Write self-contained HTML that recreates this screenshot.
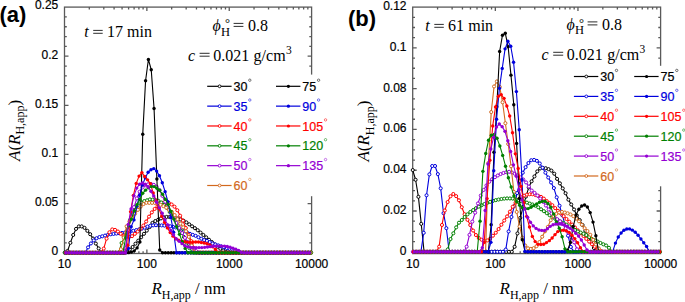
<!DOCTYPE html>
<html><head><meta charset="utf-8"><style>
html,body{margin:0;padding:0;background:#fff;}
svg{display:block;}
text{font-family:"Liberation Sans",sans-serif;}
.tk{font-size:12px;fill:#000;stroke:#000;stroke-width:0.2px;}
.lg{font-size:12.5px;}
.pl{font-size:22px;font-weight:bold;fill:#000;}
.sr{font-family:"Liberation Serif",serif;fill:#000;}
</style></head><body>
<svg width="685" height="302" viewBox="0 0 685 302">
<rect width="685" height="302" fill="#fff"/>
<g stroke="#5a5a5a" stroke-width="1.3" fill="none">
<rect x="64.5" y="7.1" width="247.1" height="246.4"/>
<path d="M89.3 253.5 v-2.3 M89.3 7.1 v2.3"/>
<path d="M103.8 253.5 v-2.3 M103.8 7.1 v2.3"/>
<path d="M114.09 253.5 v-2.3 M114.09 7.1 v2.3"/>
<path d="M122.07 253.5 v-2.3 M122.07 7.1 v2.3"/>
<path d="M128.6 253.5 v-2.3 M128.6 7.1 v2.3"/>
<path d="M134.11 253.5 v-2.3 M134.11 7.1 v2.3"/>
<path d="M138.89 253.5 v-2.3 M138.89 7.1 v2.3"/>
<path d="M143.1 253.5 v-2.3 M143.1 7.1 v2.3"/>
<path d="M146.87 253.5 v-4 M146.87 7.1 v4"/>
<path d="M171.67 253.5 v-2.3 M171.67 7.1 v2.3"/>
<path d="M186.17 253.5 v-2.3 M186.17 7.1 v2.3"/>
<path d="M196.46 253.5 v-2.3 M196.46 7.1 v2.3"/>
<path d="M204.44 253.5 v-2.3 M204.44 7.1 v2.3"/>
<path d="M210.97 253.5 v-2.3 M210.97 7.1 v2.3"/>
<path d="M216.48 253.5 v-2.3 M216.48 7.1 v2.3"/>
<path d="M221.26 253.5 v-2.3 M221.26 7.1 v2.3"/>
<path d="M225.47 253.5 v-2.3 M225.47 7.1 v2.3"/>
<path d="M229.24 253.5 v-4 M229.24 7.1 v4"/>
<path d="M254.04 253.5 v-2.3 M254.04 7.1 v2.3"/>
<path d="M268.54 253.5 v-2.3 M268.54 7.1 v2.3"/>
<path d="M278.83 253.5 v-2.3 M278.83 7.1 v2.3"/>
<path d="M286.81 253.5 v-2.3 M286.81 7.1 v2.3"/>
<path d="M293.34 253.5 v-2.3 M293.34 7.1 v2.3"/>
<path d="M298.85 253.5 v-2.3 M298.85 7.1 v2.3"/>
<path d="M303.63 253.5 v-2.3 M303.63 7.1 v2.3"/>
<path d="M307.84 253.5 v-2.3 M307.84 7.1 v2.3"/>
<path d="M64.5 242.88 h2.3 M311.6 242.88 h-2.3"/>
<path d="M64.5 233.05 h2.3 M311.6 233.05 h-2.3"/>
<path d="M64.5 223.23 h2.3 M311.6 223.23 h-2.3"/>
<path d="M64.5 213.4 h2.3 M311.6 213.4 h-2.3"/>
<path d="M64.5 203.58 h4 M311.6 203.58 h-4"/>
<path d="M64.5 193.76 h2.3 M311.6 193.76 h-2.3"/>
<path d="M64.5 183.93 h2.3 M311.6 183.93 h-2.3"/>
<path d="M64.5 174.11 h2.3 M311.6 174.11 h-2.3"/>
<path d="M64.5 164.28 h2.3 M311.6 164.28 h-2.3"/>
<path d="M64.5 154.46 h4 M311.6 154.46 h-4"/>
<path d="M64.5 144.64 h2.3 M311.6 144.64 h-2.3"/>
<path d="M64.5 134.81 h2.3 M311.6 134.81 h-2.3"/>
<path d="M64.5 124.99 h2.3 M311.6 124.99 h-2.3"/>
<path d="M64.5 115.16 h2.3 M311.6 115.16 h-2.3"/>
<path d="M64.5 105.34 h4 M311.6 105.34 h-4"/>
<path d="M64.5 95.52 h2.3 M311.6 95.52 h-2.3"/>
<path d="M64.5 85.69 h2.3 M311.6 85.69 h-2.3"/>
<path d="M64.5 75.87 h2.3 M311.6 75.87 h-2.3"/>
<path d="M64.5 66.04 h2.3 M311.6 66.04 h-2.3"/>
<path d="M64.5 56.22 h4 M311.6 56.22 h-4"/>
<path d="M64.5 46.4 h2.3 M311.6 46.4 h-2.3"/>
<path d="M64.5 36.57 h2.3 M311.6 36.57 h-2.3"/>
<path d="M64.5 26.75 h2.3 M311.6 26.75 h-2.3"/>
<path d="M64.5 16.92 h2.3 M311.6 16.92 h-2.3"/>
</g>
<g stroke="#5a5a5a" stroke-width="1.3" fill="none">
<rect x="412.7" y="7.1" width="247.9" height="246.5"/>
<path d="M437.57 253.6 v-2.3 M437.57 7.1 v2.3"/>
<path d="M452.12 253.6 v-2.3 M452.12 7.1 v2.3"/>
<path d="M462.45 253.6 v-2.3 M462.45 7.1 v2.3"/>
<path d="M470.46 253.6 v-2.3 M470.46 7.1 v2.3"/>
<path d="M477 253.6 v-2.3 M477 7.1 v2.3"/>
<path d="M482.53 253.6 v-2.3 M482.53 7.1 v2.3"/>
<path d="M487.32 253.6 v-2.3 M487.32 7.1 v2.3"/>
<path d="M491.55 253.6 v-2.3 M491.55 7.1 v2.3"/>
<path d="M495.33 253.6 v-4 M495.33 7.1 v4"/>
<path d="M520.2 253.6 v-2.3 M520.2 7.1 v2.3"/>
<path d="M534.75 253.6 v-2.3 M534.75 7.1 v2.3"/>
<path d="M545.08 253.6 v-2.3 M545.08 7.1 v2.3"/>
<path d="M553.09 253.6 v-2.3 M553.09 7.1 v2.3"/>
<path d="M559.63 253.6 v-2.3 M559.63 7.1 v2.3"/>
<path d="M565.16 253.6 v-2.3 M565.16 7.1 v2.3"/>
<path d="M569.95 253.6 v-2.3 M569.95 7.1 v2.3"/>
<path d="M574.18 253.6 v-2.3 M574.18 7.1 v2.3"/>
<path d="M577.96 253.6 v-4 M577.96 7.1 v4"/>
<path d="M602.83 253.6 v-2.3 M602.83 7.1 v2.3"/>
<path d="M617.38 253.6 v-2.3 M617.38 7.1 v2.3"/>
<path d="M627.71 253.6 v-2.3 M627.71 7.1 v2.3"/>
<path d="M635.72 253.6 v-2.3 M635.72 7.1 v2.3"/>
<path d="M642.26 253.6 v-2.3 M642.26 7.1 v2.3"/>
<path d="M647.79 253.6 v-2.3 M647.79 7.1 v2.3"/>
<path d="M652.58 253.6 v-2.3 M652.58 7.1 v2.3"/>
<path d="M656.81 253.6 v-2.3 M656.81 7.1 v2.3"/>
<path d="M412.7 241.6 h2.3 M660.6 241.6 h-2.3"/>
<path d="M412.7 231.41 h2.3 M660.6 231.41 h-2.3"/>
<path d="M412.7 221.21 h2.3 M660.6 221.21 h-2.3"/>
<path d="M412.7 211.02 h4 M660.6 211.02 h-4"/>
<path d="M412.7 200.82 h2.3 M660.6 200.82 h-2.3"/>
<path d="M412.7 190.62 h2.3 M660.6 190.62 h-2.3"/>
<path d="M412.7 180.43 h2.3 M660.6 180.43 h-2.3"/>
<path d="M412.7 170.23 h4 M660.6 170.23 h-4"/>
<path d="M412.7 160.04 h2.3 M660.6 160.04 h-2.3"/>
<path d="M412.7 149.84 h2.3 M660.6 149.84 h-2.3"/>
<path d="M412.7 139.65 h2.3 M660.6 139.65 h-2.3"/>
<path d="M412.7 129.45 h4 M660.6 129.45 h-4"/>
<path d="M412.7 119.25 h2.3 M660.6 119.25 h-2.3"/>
<path d="M412.7 109.06 h2.3 M660.6 109.06 h-2.3"/>
<path d="M412.7 98.86 h2.3 M660.6 98.86 h-2.3"/>
<path d="M412.7 88.67 h4 M660.6 88.67 h-4"/>
<path d="M412.7 78.47 h2.3 M660.6 78.47 h-2.3"/>
<path d="M412.7 68.27 h2.3 M660.6 68.27 h-2.3"/>
<path d="M412.7 58.08 h2.3 M660.6 58.08 h-2.3"/>
<path d="M412.7 47.88 h4 M660.6 47.88 h-4"/>
<path d="M412.7 37.69 h2.3 M660.6 37.69 h-2.3"/>
<path d="M412.7 27.49 h2.3 M660.6 27.49 h-2.3"/>
<path d="M412.7 17.3 h2.3 M660.6 17.3 h-2.3"/>
</g>
<path d="M64.71 252.69 L67.54 250.96 L70.37 242.84 L73.2 234.97 L76.03 228.91 L78.86 226.42 L81.69 226.4 L84.52 227.85 L87.35 230.83 L90.18 234.21 L93.01 238.52 L95.84 243.55 L98.67 248.44 L101.5 252.7 L104.33 252.7 L107.16 252.7 L109.99 252.7 L112.82 252.7 L115.65 252.7 L118.48 252.7 L121.31 252.7 L124.14 252.7 L126.97 252.18 L129.8 249.59 L132.63 247.01 L135.46 243.7 L138.29 240.64 L141.12 237.26 L143.95 233.8 L146.78 230.63 L149.61 227.09 L152.44 222.94 L155.27 221.08 L158.1 219.78 L160.93 218.42 L163.76 217.23 L166.59 216.91 L169.42 217.03 L172.25 217.24 L175.08 217.73 L177.91 218.46 L180.74 219.4 L183.57 220.68 L186.4 222.39 L189.23 224.36 L192.06 226.3 L194.89 228.15 L197.72 230.2 L200.55 232.61 L203.38 234.96 L206.21 237.35 L209.04 239.77 L211.87 242.06 L214.7 244.4 L217.53 246.75 L220.36 248.72 L223.19 250.37 L226.02 251.71 L228.85 252.7 L231.68 252.7 L234.51 252.7 L237.34 252.7 L240.17 252.7 L243 252.7 L245.83 252.7 L248.66 252.7 L251.49 252.7 L254.32 252.7 L257.15 252.7 L259.98 252.7 L262.81 252.7 L265.64 252.7 L268.47 252.7 L271.3 252.7 L274.13 252.7 L276.96 252.7 L279.79 252.7 L282.62 252.7 L285.45 252.7 L288.28 252.7 L291.11 252.7 L293.94 252.7 L296.77 252.7 L299.6 252.7 L302.43 252.7 L305.26 252.7 L308.09 252.7 L310.92 252.7" fill="none" stroke="#000000" stroke-width="1.1" stroke-linejoin="round"/>
<g fill="#fff" stroke="#000000" stroke-width="1">
<circle cx="64.71" cy="252.69" r="1.55"/>
<circle cx="67.54" cy="250.96" r="1.55"/>
<circle cx="70.37" cy="242.84" r="1.55"/>
<circle cx="73.2" cy="234.97" r="1.55"/>
<circle cx="76.03" cy="228.91" r="1.55"/>
<circle cx="78.86" cy="226.42" r="1.55"/>
<circle cx="81.69" cy="226.4" r="1.55"/>
<circle cx="84.52" cy="227.85" r="1.55"/>
<circle cx="87.35" cy="230.83" r="1.55"/>
<circle cx="90.18" cy="234.21" r="1.55"/>
<circle cx="93.01" cy="238.52" r="1.55"/>
<circle cx="95.84" cy="243.55" r="1.55"/>
<circle cx="98.67" cy="248.44" r="1.55"/>
<circle cx="101.5" cy="252.7" r="1.55"/>
<circle cx="104.33" cy="252.7" r="1.55"/>
<circle cx="107.16" cy="252.7" r="1.55"/>
<circle cx="109.99" cy="252.7" r="1.55"/>
<circle cx="112.82" cy="252.7" r="1.55"/>
<circle cx="115.65" cy="252.7" r="1.55"/>
<circle cx="118.48" cy="252.7" r="1.55"/>
<circle cx="121.31" cy="252.7" r="1.55"/>
<circle cx="124.14" cy="252.7" r="1.55"/>
<circle cx="126.97" cy="252.18" r="1.55"/>
<circle cx="129.8" cy="249.59" r="1.55"/>
<circle cx="132.63" cy="247.01" r="1.55"/>
<circle cx="135.46" cy="243.7" r="1.55"/>
<circle cx="138.29" cy="240.64" r="1.55"/>
<circle cx="141.12" cy="237.26" r="1.55"/>
<circle cx="143.95" cy="233.8" r="1.55"/>
<circle cx="146.78" cy="230.63" r="1.55"/>
<circle cx="149.61" cy="227.09" r="1.55"/>
<circle cx="152.44" cy="222.94" r="1.55"/>
<circle cx="155.27" cy="221.08" r="1.55"/>
<circle cx="158.1" cy="219.78" r="1.55"/>
<circle cx="160.93" cy="218.42" r="1.55"/>
<circle cx="163.76" cy="217.23" r="1.55"/>
<circle cx="166.59" cy="216.91" r="1.55"/>
<circle cx="169.42" cy="217.03" r="1.55"/>
<circle cx="172.25" cy="217.24" r="1.55"/>
<circle cx="175.08" cy="217.73" r="1.55"/>
<circle cx="177.91" cy="218.46" r="1.55"/>
<circle cx="180.74" cy="219.4" r="1.55"/>
<circle cx="183.57" cy="220.68" r="1.55"/>
<circle cx="186.4" cy="222.39" r="1.55"/>
<circle cx="189.23" cy="224.36" r="1.55"/>
<circle cx="192.06" cy="226.3" r="1.55"/>
<circle cx="194.89" cy="228.15" r="1.55"/>
<circle cx="197.72" cy="230.2" r="1.55"/>
<circle cx="200.55" cy="232.61" r="1.55"/>
<circle cx="203.38" cy="234.96" r="1.55"/>
<circle cx="206.21" cy="237.35" r="1.55"/>
<circle cx="209.04" cy="239.77" r="1.55"/>
<circle cx="211.87" cy="242.06" r="1.55"/>
<circle cx="214.7" cy="244.4" r="1.55"/>
<circle cx="217.53" cy="246.75" r="1.55"/>
<circle cx="220.36" cy="248.72" r="1.55"/>
<circle cx="223.19" cy="250.37" r="1.55"/>
<circle cx="226.02" cy="251.71" r="1.55"/>
<circle cx="228.85" cy="252.7" r="1.55"/>
<circle cx="231.68" cy="252.7" r="1.55"/>
<circle cx="234.51" cy="252.7" r="1.55"/>
<circle cx="237.34" cy="252.7" r="1.55"/>
<circle cx="240.17" cy="252.7" r="1.55"/>
<circle cx="243" cy="252.7" r="1.55"/>
<circle cx="245.83" cy="252.7" r="1.55"/>
<circle cx="248.66" cy="252.7" r="1.55"/>
<circle cx="251.49" cy="252.7" r="1.55"/>
<circle cx="254.32" cy="252.7" r="1.55"/>
<circle cx="257.15" cy="252.7" r="1.55"/>
<circle cx="259.98" cy="252.7" r="1.55"/>
<circle cx="262.81" cy="252.7" r="1.55"/>
<circle cx="265.64" cy="252.7" r="1.55"/>
<circle cx="268.47" cy="252.7" r="1.55"/>
<circle cx="271.3" cy="252.7" r="1.55"/>
<circle cx="274.13" cy="252.7" r="1.55"/>
<circle cx="276.96" cy="252.7" r="1.55"/>
<circle cx="279.79" cy="252.7" r="1.55"/>
<circle cx="282.62" cy="252.7" r="1.55"/>
<circle cx="285.45" cy="252.7" r="1.55"/>
<circle cx="288.28" cy="252.7" r="1.55"/>
<circle cx="291.11" cy="252.7" r="1.55"/>
<circle cx="293.94" cy="252.7" r="1.55"/>
<circle cx="296.77" cy="252.7" r="1.55"/>
<circle cx="299.6" cy="252.7" r="1.55"/>
<circle cx="302.43" cy="252.7" r="1.55"/>
<circle cx="305.26" cy="252.7" r="1.55"/>
<circle cx="308.09" cy="252.7" r="1.55"/>
<circle cx="310.92" cy="252.7" r="1.55"/>
</g>
<path d="M65.44 252.7 L68.27 252.7 L71.1 252.7 L73.93 252.7 L76.76 252.7 L79.59 252.7 L82.42 252.7 L85.25 252.7 L88.08 247.36 L90.91 243.43 L93.74 240.4 L96.57 238.22 L99.4 237.08 L102.23 236.31 L105.06 235.57 L107.89 234.8 L110.72 234.29 L113.55 233.94 L116.38 233.58 L119.21 233.23 L122.04 232.93 L124.87 232.61 L127.7 232.22 L130.53 231.54 L133.36 230.79 L136.19 230.12 L139.02 229.44 L141.85 228.68 L144.68 227.65 L147.51 226.58 L150.34 225.75 L153.17 225.36 L156 225.2 L158.83 225.26 L161.66 225.38 L164.49 225.58 L167.32 225.89 L170.15 226.28 L172.98 226.77 L175.81 227.45 L178.64 228.43 L181.47 229.72 L184.3 231.1 L187.13 232.56 L189.96 233.84 L192.79 234.86 L195.62 235.83 L198.45 237.26 L201.28 238.74 L204.11 240.05 L206.94 240.87 L209.77 242.14 L212.6 243.53 L215.43 244.45 L218.26 245.39 L221.09 246.33 L223.92 247.3 L226.75 248.04 L229.58 248.72 L232.41 249.46 L235.24 250.36 L238.07 251.52 L240.9 252.7 L243.73 252.7 L246.56 252.7 L249.39 252.7 L252.22 252.7 L255.05 252.7 L257.88 252.7 L260.71 252.7 L263.54 252.7 L266.37 252.7 L269.2 252.7 L272.03 252.7 L274.86 252.7 L277.69 252.7 L280.52 252.7 L283.35 252.7 L286.18 252.7 L289.01 252.7 L291.84 252.7 L294.67 252.7 L297.5 252.7 L300.33 252.7 L303.16 252.7 L305.99 252.7 L308.82 252.7" fill="none" stroke="#0000dd" stroke-width="1.1" stroke-linejoin="round"/>
<g fill="#fff" stroke="#0000dd" stroke-width="1">
<circle cx="65.44" cy="252.7" r="1.55"/>
<circle cx="68.27" cy="252.7" r="1.55"/>
<circle cx="71.1" cy="252.7" r="1.55"/>
<circle cx="73.93" cy="252.7" r="1.55"/>
<circle cx="76.76" cy="252.7" r="1.55"/>
<circle cx="79.59" cy="252.7" r="1.55"/>
<circle cx="82.42" cy="252.7" r="1.55"/>
<circle cx="85.25" cy="252.7" r="1.55"/>
<circle cx="88.08" cy="247.36" r="1.55"/>
<circle cx="90.91" cy="243.43" r="1.55"/>
<circle cx="93.74" cy="240.4" r="1.55"/>
<circle cx="96.57" cy="238.22" r="1.55"/>
<circle cx="99.4" cy="237.08" r="1.55"/>
<circle cx="102.23" cy="236.31" r="1.55"/>
<circle cx="105.06" cy="235.57" r="1.55"/>
<circle cx="107.89" cy="234.8" r="1.55"/>
<circle cx="110.72" cy="234.29" r="1.55"/>
<circle cx="113.55" cy="233.94" r="1.55"/>
<circle cx="116.38" cy="233.58" r="1.55"/>
<circle cx="119.21" cy="233.23" r="1.55"/>
<circle cx="122.04" cy="232.93" r="1.55"/>
<circle cx="124.87" cy="232.61" r="1.55"/>
<circle cx="127.7" cy="232.22" r="1.55"/>
<circle cx="130.53" cy="231.54" r="1.55"/>
<circle cx="133.36" cy="230.79" r="1.55"/>
<circle cx="136.19" cy="230.12" r="1.55"/>
<circle cx="139.02" cy="229.44" r="1.55"/>
<circle cx="141.85" cy="228.68" r="1.55"/>
<circle cx="144.68" cy="227.65" r="1.55"/>
<circle cx="147.51" cy="226.58" r="1.55"/>
<circle cx="150.34" cy="225.75" r="1.55"/>
<circle cx="153.17" cy="225.36" r="1.55"/>
<circle cx="156" cy="225.2" r="1.55"/>
<circle cx="158.83" cy="225.26" r="1.55"/>
<circle cx="161.66" cy="225.38" r="1.55"/>
<circle cx="164.49" cy="225.58" r="1.55"/>
<circle cx="167.32" cy="225.89" r="1.55"/>
<circle cx="170.15" cy="226.28" r="1.55"/>
<circle cx="172.98" cy="226.77" r="1.55"/>
<circle cx="175.81" cy="227.45" r="1.55"/>
<circle cx="178.64" cy="228.43" r="1.55"/>
<circle cx="181.47" cy="229.72" r="1.55"/>
<circle cx="184.3" cy="231.1" r="1.55"/>
<circle cx="187.13" cy="232.56" r="1.55"/>
<circle cx="189.96" cy="233.84" r="1.55"/>
<circle cx="192.79" cy="234.86" r="1.55"/>
<circle cx="195.62" cy="235.83" r="1.55"/>
<circle cx="198.45" cy="237.26" r="1.55"/>
<circle cx="201.28" cy="238.74" r="1.55"/>
<circle cx="204.11" cy="240.05" r="1.55"/>
<circle cx="206.94" cy="240.87" r="1.55"/>
<circle cx="209.77" cy="242.14" r="1.55"/>
<circle cx="212.6" cy="243.53" r="1.55"/>
<circle cx="215.43" cy="244.45" r="1.55"/>
<circle cx="218.26" cy="245.39" r="1.55"/>
<circle cx="221.09" cy="246.33" r="1.55"/>
<circle cx="223.92" cy="247.3" r="1.55"/>
<circle cx="226.75" cy="248.04" r="1.55"/>
<circle cx="229.58" cy="248.72" r="1.55"/>
<circle cx="232.41" cy="249.46" r="1.55"/>
<circle cx="235.24" cy="250.36" r="1.55"/>
<circle cx="238.07" cy="251.52" r="1.55"/>
<circle cx="240.9" cy="252.7" r="1.55"/>
<circle cx="243.73" cy="252.7" r="1.55"/>
<circle cx="246.56" cy="252.7" r="1.55"/>
<circle cx="249.39" cy="252.7" r="1.55"/>
<circle cx="252.22" cy="252.7" r="1.55"/>
<circle cx="255.05" cy="252.7" r="1.55"/>
<circle cx="257.88" cy="252.7" r="1.55"/>
<circle cx="260.71" cy="252.7" r="1.55"/>
<circle cx="263.54" cy="252.7" r="1.55"/>
<circle cx="266.37" cy="252.7" r="1.55"/>
<circle cx="269.2" cy="252.7" r="1.55"/>
<circle cx="272.03" cy="252.7" r="1.55"/>
<circle cx="274.86" cy="252.7" r="1.55"/>
<circle cx="277.69" cy="252.7" r="1.55"/>
<circle cx="280.52" cy="252.7" r="1.55"/>
<circle cx="283.35" cy="252.7" r="1.55"/>
<circle cx="286.18" cy="252.7" r="1.55"/>
<circle cx="289.01" cy="252.7" r="1.55"/>
<circle cx="291.84" cy="252.7" r="1.55"/>
<circle cx="294.67" cy="252.7" r="1.55"/>
<circle cx="297.5" cy="252.7" r="1.55"/>
<circle cx="300.33" cy="252.7" r="1.55"/>
<circle cx="303.16" cy="252.7" r="1.55"/>
<circle cx="305.99" cy="252.7" r="1.55"/>
<circle cx="308.82" cy="252.7" r="1.55"/>
</g>
<path d="M66.95 252.7 L69.78 252.7 L72.61 252.7 L75.44 252.7 L78.27 252.7 L81.1 252.7 L83.93 252.7 L86.76 252.7 L89.59 252.7 L92.42 252.7 L95.25 252.7 L98.08 252.7 L100.91 252.7 L103.74 248.58 L106.57 238.65 L109.4 232.28 L112.23 229.43 L115.06 229.89 L117.89 231.53 L120.72 233.76 L123.55 235.9 L126.38 236.9 L129.21 236.79 L132.04 236.15 L134.87 233.84 L137.7 231.53 L140.53 228.82 L143.36 225.56 L146.19 221.53 L149.02 216.65 L151.85 212.37 L154.68 208.93 L157.51 206.24 L160.34 204.07 L163.17 202.71 L166 202 L168.83 202.92 L171.66 204.48 L174.49 206.68 L177.32 210.23 L180.15 215.72 L182.98 220.71 L185.81 227.98 L188.64 234.88 L191.47 241.23 L194.3 248.23 L197.13 252.08 L199.96 252.7 L202.79 252.7 L205.62 252.7 L208.45 252.7 L211.28 252.7 L214.11 252.7 L216.94 252.7 L219.77 252.7 L222.6 252.7 L225.43 252.7 L228.26 252.7 L231.09 252.7 L233.92 252.7 L236.75 252.7 L239.58 252.7 L242.41 252.7 L245.24 252.7 L248.07 252.7 L250.9 252.7 L253.73 252.7 L256.56 252.7 L259.39 252.7 L262.22 252.7 L265.05 252.7 L267.88 252.7 L270.71 252.7 L273.54 252.7 L276.37 252.7 L279.2 252.7 L282.03 252.7 L284.86 252.7 L287.69 252.7 L290.52 252.7 L293.35 252.7 L296.18 252.7 L299.01 252.7 L301.84 252.7 L304.67 252.7 L307.5 252.7 L310.33 252.7" fill="none" stroke="#ff0000" stroke-width="1.1" stroke-linejoin="round"/>
<g fill="#fff" stroke="#ff0000" stroke-width="1">
<circle cx="66.95" cy="252.7" r="1.55"/>
<circle cx="69.78" cy="252.7" r="1.55"/>
<circle cx="72.61" cy="252.7" r="1.55"/>
<circle cx="75.44" cy="252.7" r="1.55"/>
<circle cx="78.27" cy="252.7" r="1.55"/>
<circle cx="81.1" cy="252.7" r="1.55"/>
<circle cx="83.93" cy="252.7" r="1.55"/>
<circle cx="86.76" cy="252.7" r="1.55"/>
<circle cx="89.59" cy="252.7" r="1.55"/>
<circle cx="92.42" cy="252.7" r="1.55"/>
<circle cx="95.25" cy="252.7" r="1.55"/>
<circle cx="98.08" cy="252.7" r="1.55"/>
<circle cx="100.91" cy="252.7" r="1.55"/>
<circle cx="103.74" cy="248.58" r="1.55"/>
<circle cx="106.57" cy="238.65" r="1.55"/>
<circle cx="109.4" cy="232.28" r="1.55"/>
<circle cx="112.23" cy="229.43" r="1.55"/>
<circle cx="115.06" cy="229.89" r="1.55"/>
<circle cx="117.89" cy="231.53" r="1.55"/>
<circle cx="120.72" cy="233.76" r="1.55"/>
<circle cx="123.55" cy="235.9" r="1.55"/>
<circle cx="126.38" cy="236.9" r="1.55"/>
<circle cx="129.21" cy="236.79" r="1.55"/>
<circle cx="132.04" cy="236.15" r="1.55"/>
<circle cx="134.87" cy="233.84" r="1.55"/>
<circle cx="137.7" cy="231.53" r="1.55"/>
<circle cx="140.53" cy="228.82" r="1.55"/>
<circle cx="143.36" cy="225.56" r="1.55"/>
<circle cx="146.19" cy="221.53" r="1.55"/>
<circle cx="149.02" cy="216.65" r="1.55"/>
<circle cx="151.85" cy="212.37" r="1.55"/>
<circle cx="154.68" cy="208.93" r="1.55"/>
<circle cx="157.51" cy="206.24" r="1.55"/>
<circle cx="160.34" cy="204.07" r="1.55"/>
<circle cx="163.17" cy="202.71" r="1.55"/>
<circle cx="166" cy="202" r="1.55"/>
<circle cx="168.83" cy="202.92" r="1.55"/>
<circle cx="171.66" cy="204.48" r="1.55"/>
<circle cx="174.49" cy="206.68" r="1.55"/>
<circle cx="177.32" cy="210.23" r="1.55"/>
<circle cx="180.15" cy="215.72" r="1.55"/>
<circle cx="182.98" cy="220.71" r="1.55"/>
<circle cx="185.81" cy="227.98" r="1.55"/>
<circle cx="188.64" cy="234.88" r="1.55"/>
<circle cx="191.47" cy="241.23" r="1.55"/>
<circle cx="194.3" cy="248.23" r="1.55"/>
<circle cx="197.13" cy="252.08" r="1.55"/>
<circle cx="199.96" cy="252.7" r="1.55"/>
<circle cx="202.79" cy="252.7" r="1.55"/>
<circle cx="205.62" cy="252.7" r="1.55"/>
<circle cx="208.45" cy="252.7" r="1.55"/>
<circle cx="211.28" cy="252.7" r="1.55"/>
<circle cx="214.11" cy="252.7" r="1.55"/>
<circle cx="216.94" cy="252.7" r="1.55"/>
<circle cx="219.77" cy="252.7" r="1.55"/>
<circle cx="222.6" cy="252.7" r="1.55"/>
<circle cx="225.43" cy="252.7" r="1.55"/>
<circle cx="228.26" cy="252.7" r="1.55"/>
<circle cx="231.09" cy="252.7" r="1.55"/>
<circle cx="233.92" cy="252.7" r="1.55"/>
<circle cx="236.75" cy="252.7" r="1.55"/>
<circle cx="239.58" cy="252.7" r="1.55"/>
<circle cx="242.41" cy="252.7" r="1.55"/>
<circle cx="245.24" cy="252.7" r="1.55"/>
<circle cx="248.07" cy="252.7" r="1.55"/>
<circle cx="250.9" cy="252.7" r="1.55"/>
<circle cx="253.73" cy="252.7" r="1.55"/>
<circle cx="256.56" cy="252.7" r="1.55"/>
<circle cx="259.39" cy="252.7" r="1.55"/>
<circle cx="262.22" cy="252.7" r="1.55"/>
<circle cx="265.05" cy="252.7" r="1.55"/>
<circle cx="267.88" cy="252.7" r="1.55"/>
<circle cx="270.71" cy="252.7" r="1.55"/>
<circle cx="273.54" cy="252.7" r="1.55"/>
<circle cx="276.37" cy="252.7" r="1.55"/>
<circle cx="279.2" cy="252.7" r="1.55"/>
<circle cx="282.03" cy="252.7" r="1.55"/>
<circle cx="284.86" cy="252.7" r="1.55"/>
<circle cx="287.69" cy="252.7" r="1.55"/>
<circle cx="290.52" cy="252.7" r="1.55"/>
<circle cx="293.35" cy="252.7" r="1.55"/>
<circle cx="296.18" cy="252.7" r="1.55"/>
<circle cx="299.01" cy="252.7" r="1.55"/>
<circle cx="301.84" cy="252.7" r="1.55"/>
<circle cx="304.67" cy="252.7" r="1.55"/>
<circle cx="307.5" cy="252.7" r="1.55"/>
<circle cx="310.33" cy="252.7" r="1.55"/>
</g>
<path d="M65 252.7 L67.83 252.7 L70.66 252.7 L73.49 252.7 L76.32 252.7 L79.15 252.7 L81.98 252.7 L84.81 252.7 L87.64 252.7 L90.47 252.7 L93.3 252.7 L96.13 252.7 L98.96 252.7 L101.79 252.7 L104.62 252.7 L107.45 252.7 L110.28 252.7 L113.11 252.7 L115.94 252.7 L118.77 252.6 L121.6 242.99 L124.43 237.5 L127.26 227.18 L130.09 219.79 L132.92 213.93 L135.75 209.1 L138.58 205.35 L141.41 202.54 L144.24 201.11 L147.07 200.26 L149.9 199.4 L152.73 199.61 L155.56 200.06 L158.39 200.87 L161.22 202.5 L164.05 204.92 L166.88 207.86 L169.71 211.98 L172.54 216.27 L175.37 220.6 L178.2 225.52 L181.03 231.07 L183.86 236.91 L186.69 242.39 L189.52 248.2 L192.35 252.42 L195.18 252.7 L198.01 252.7 L200.84 252.7 L203.67 252.7 L206.5 252.7 L209.33 252.7 L212.16 252.7 L214.99 252.7 L217.82 252.7 L220.65 252.7 L223.48 252.7 L226.31 252.7 L229.14 252.7 L231.97 252.7 L234.8 252.7 L237.63 252.7 L240.46 252.7 L243.29 252.7 L246.12 252.7 L248.95 252.7 L251.78 252.7 L254.61 252.7 L257.44 252.7 L260.27 252.7 L263.1 252.7 L265.93 252.7 L268.76 252.7 L271.59 252.7 L274.42 252.7 L277.25 252.7 L280.08 252.7 L282.91 252.7 L285.74 252.7 L288.57 252.7 L291.4 252.7 L294.23 252.7 L297.06 252.7 L299.89 252.7 L302.72 252.7 L305.55 252.7 L308.38 252.7 L311.21 252.7" fill="none" stroke="#008000" stroke-width="1.1" stroke-linejoin="round"/>
<g fill="#fff" stroke="#008000" stroke-width="1">
<circle cx="65" cy="252.7" r="1.55"/>
<circle cx="67.83" cy="252.7" r="1.55"/>
<circle cx="70.66" cy="252.7" r="1.55"/>
<circle cx="73.49" cy="252.7" r="1.55"/>
<circle cx="76.32" cy="252.7" r="1.55"/>
<circle cx="79.15" cy="252.7" r="1.55"/>
<circle cx="81.98" cy="252.7" r="1.55"/>
<circle cx="84.81" cy="252.7" r="1.55"/>
<circle cx="87.64" cy="252.7" r="1.55"/>
<circle cx="90.47" cy="252.7" r="1.55"/>
<circle cx="93.3" cy="252.7" r="1.55"/>
<circle cx="96.13" cy="252.7" r="1.55"/>
<circle cx="98.96" cy="252.7" r="1.55"/>
<circle cx="101.79" cy="252.7" r="1.55"/>
<circle cx="104.62" cy="252.7" r="1.55"/>
<circle cx="107.45" cy="252.7" r="1.55"/>
<circle cx="110.28" cy="252.7" r="1.55"/>
<circle cx="113.11" cy="252.7" r="1.55"/>
<circle cx="115.94" cy="252.7" r="1.55"/>
<circle cx="118.77" cy="252.6" r="1.55"/>
<circle cx="121.6" cy="242.99" r="1.55"/>
<circle cx="124.43" cy="237.5" r="1.55"/>
<circle cx="127.26" cy="227.18" r="1.55"/>
<circle cx="130.09" cy="219.79" r="1.55"/>
<circle cx="132.92" cy="213.93" r="1.55"/>
<circle cx="135.75" cy="209.1" r="1.55"/>
<circle cx="138.58" cy="205.35" r="1.55"/>
<circle cx="141.41" cy="202.54" r="1.55"/>
<circle cx="144.24" cy="201.11" r="1.55"/>
<circle cx="147.07" cy="200.26" r="1.55"/>
<circle cx="149.9" cy="199.4" r="1.55"/>
<circle cx="152.73" cy="199.61" r="1.55"/>
<circle cx="155.56" cy="200.06" r="1.55"/>
<circle cx="158.39" cy="200.87" r="1.55"/>
<circle cx="161.22" cy="202.5" r="1.55"/>
<circle cx="164.05" cy="204.92" r="1.55"/>
<circle cx="166.88" cy="207.86" r="1.55"/>
<circle cx="169.71" cy="211.98" r="1.55"/>
<circle cx="172.54" cy="216.27" r="1.55"/>
<circle cx="175.37" cy="220.6" r="1.55"/>
<circle cx="178.2" cy="225.52" r="1.55"/>
<circle cx="181.03" cy="231.07" r="1.55"/>
<circle cx="183.86" cy="236.91" r="1.55"/>
<circle cx="186.69" cy="242.39" r="1.55"/>
<circle cx="189.52" cy="248.2" r="1.55"/>
<circle cx="192.35" cy="252.42" r="1.55"/>
<circle cx="195.18" cy="252.7" r="1.55"/>
<circle cx="198.01" cy="252.7" r="1.55"/>
<circle cx="200.84" cy="252.7" r="1.55"/>
<circle cx="203.67" cy="252.7" r="1.55"/>
<circle cx="206.5" cy="252.7" r="1.55"/>
<circle cx="209.33" cy="252.7" r="1.55"/>
<circle cx="212.16" cy="252.7" r="1.55"/>
<circle cx="214.99" cy="252.7" r="1.55"/>
<circle cx="217.82" cy="252.7" r="1.55"/>
<circle cx="220.65" cy="252.7" r="1.55"/>
<circle cx="223.48" cy="252.7" r="1.55"/>
<circle cx="226.31" cy="252.7" r="1.55"/>
<circle cx="229.14" cy="252.7" r="1.55"/>
<circle cx="231.97" cy="252.7" r="1.55"/>
<circle cx="234.8" cy="252.7" r="1.55"/>
<circle cx="237.63" cy="252.7" r="1.55"/>
<circle cx="240.46" cy="252.7" r="1.55"/>
<circle cx="243.29" cy="252.7" r="1.55"/>
<circle cx="246.12" cy="252.7" r="1.55"/>
<circle cx="248.95" cy="252.7" r="1.55"/>
<circle cx="251.78" cy="252.7" r="1.55"/>
<circle cx="254.61" cy="252.7" r="1.55"/>
<circle cx="257.44" cy="252.7" r="1.55"/>
<circle cx="260.27" cy="252.7" r="1.55"/>
<circle cx="263.1" cy="252.7" r="1.55"/>
<circle cx="265.93" cy="252.7" r="1.55"/>
<circle cx="268.76" cy="252.7" r="1.55"/>
<circle cx="271.59" cy="252.7" r="1.55"/>
<circle cx="274.42" cy="252.7" r="1.55"/>
<circle cx="277.25" cy="252.7" r="1.55"/>
<circle cx="280.08" cy="252.7" r="1.55"/>
<circle cx="282.91" cy="252.7" r="1.55"/>
<circle cx="285.74" cy="252.7" r="1.55"/>
<circle cx="288.57" cy="252.7" r="1.55"/>
<circle cx="291.4" cy="252.7" r="1.55"/>
<circle cx="294.23" cy="252.7" r="1.55"/>
<circle cx="297.06" cy="252.7" r="1.55"/>
<circle cx="299.89" cy="252.7" r="1.55"/>
<circle cx="302.72" cy="252.7" r="1.55"/>
<circle cx="305.55" cy="252.7" r="1.55"/>
<circle cx="308.38" cy="252.7" r="1.55"/>
<circle cx="311.21" cy="252.7" r="1.55"/>
</g>
<path d="M66.1 252.7 L68.93 252.7 L71.76 252.7 L74.59 252.7 L77.42 252.7 L80.25 252.7 L83.08 252.7 L85.91 252.7 L88.74 252.7 L91.57 252.7 L94.4 252.7 L97.23 252.7 L100.06 252.7 L102.89 252.7 L105.72 252.7 L108.55 252.7 L111.38 252.7 L114.21 252.7 L117.04 252.7 L119.87 252.7 L122.7 252.7 L125.53 248.06 L128.36 230.07 L131.19 217.24 L134.02 207.1 L136.85 198.36 L139.68 191.71 L142.51 187.48 L145.34 185.2 L148.17 184.27 L151 184 L153.83 184.87 L156.66 186.72 L159.49 190.03 L162.32 195.74 L165.15 201.76 L167.98 207.26 L170.81 212.55 L173.64 218 L176.47 222.98 L179.3 227.9 L182.13 233.04 L184.96 237.94 L187.79 242.15 L190.62 245.73 L193.45 248.91 L196.28 251.16 L199.11 252.57 L201.94 252.7 L204.77 252.7 L207.6 252.7 L210.43 252.7 L213.26 252.7 L216.09 252.7 L218.92 252.7 L221.75 252.7 L224.58 252.7 L227.41 252.7 L230.24 252.7 L233.07 252.7 L235.9 252.7 L238.73 252.7 L241.56 252.7 L244.39 252.7 L247.22 252.7 L250.05 252.7 L252.88 252.7 L255.71 252.7 L258.54 252.7 L261.37 252.7 L264.2 252.7 L267.03 252.7 L269.86 252.7 L272.69 252.7 L275.52 252.7 L278.35 252.7 L281.18 252.7 L284.01 252.7 L286.84 252.7 L289.67 252.7 L292.5 252.7 L295.33 252.7 L298.16 252.7 L300.99 252.7 L303.82 252.7 L306.65 252.7 L309.48 252.7" fill="none" stroke="#9400d3" stroke-width="1.1" stroke-linejoin="round"/>
<g fill="#fff" stroke="#9400d3" stroke-width="1">
<circle cx="66.1" cy="252.7" r="1.55"/>
<circle cx="68.93" cy="252.7" r="1.55"/>
<circle cx="71.76" cy="252.7" r="1.55"/>
<circle cx="74.59" cy="252.7" r="1.55"/>
<circle cx="77.42" cy="252.7" r="1.55"/>
<circle cx="80.25" cy="252.7" r="1.55"/>
<circle cx="83.08" cy="252.7" r="1.55"/>
<circle cx="85.91" cy="252.7" r="1.55"/>
<circle cx="88.74" cy="252.7" r="1.55"/>
<circle cx="91.57" cy="252.7" r="1.55"/>
<circle cx="94.4" cy="252.7" r="1.55"/>
<circle cx="97.23" cy="252.7" r="1.55"/>
<circle cx="100.06" cy="252.7" r="1.55"/>
<circle cx="102.89" cy="252.7" r="1.55"/>
<circle cx="105.72" cy="252.7" r="1.55"/>
<circle cx="108.55" cy="252.7" r="1.55"/>
<circle cx="111.38" cy="252.7" r="1.55"/>
<circle cx="114.21" cy="252.7" r="1.55"/>
<circle cx="117.04" cy="252.7" r="1.55"/>
<circle cx="119.87" cy="252.7" r="1.55"/>
<circle cx="122.7" cy="252.7" r="1.55"/>
<circle cx="125.53" cy="248.06" r="1.55"/>
<circle cx="128.36" cy="230.07" r="1.55"/>
<circle cx="131.19" cy="217.24" r="1.55"/>
<circle cx="134.02" cy="207.1" r="1.55"/>
<circle cx="136.85" cy="198.36" r="1.55"/>
<circle cx="139.68" cy="191.71" r="1.55"/>
<circle cx="142.51" cy="187.48" r="1.55"/>
<circle cx="145.34" cy="185.2" r="1.55"/>
<circle cx="148.17" cy="184.27" r="1.55"/>
<circle cx="151" cy="184" r="1.55"/>
<circle cx="153.83" cy="184.87" r="1.55"/>
<circle cx="156.66" cy="186.72" r="1.55"/>
<circle cx="159.49" cy="190.03" r="1.55"/>
<circle cx="162.32" cy="195.74" r="1.55"/>
<circle cx="165.15" cy="201.76" r="1.55"/>
<circle cx="167.98" cy="207.26" r="1.55"/>
<circle cx="170.81" cy="212.55" r="1.55"/>
<circle cx="173.64" cy="218" r="1.55"/>
<circle cx="176.47" cy="222.98" r="1.55"/>
<circle cx="179.3" cy="227.9" r="1.55"/>
<circle cx="182.13" cy="233.04" r="1.55"/>
<circle cx="184.96" cy="237.94" r="1.55"/>
<circle cx="187.79" cy="242.15" r="1.55"/>
<circle cx="190.62" cy="245.73" r="1.55"/>
<circle cx="193.45" cy="248.91" r="1.55"/>
<circle cx="196.28" cy="251.16" r="1.55"/>
<circle cx="199.11" cy="252.57" r="1.55"/>
<circle cx="201.94" cy="252.7" r="1.55"/>
<circle cx="204.77" cy="252.7" r="1.55"/>
<circle cx="207.6" cy="252.7" r="1.55"/>
<circle cx="210.43" cy="252.7" r="1.55"/>
<circle cx="213.26" cy="252.7" r="1.55"/>
<circle cx="216.09" cy="252.7" r="1.55"/>
<circle cx="218.92" cy="252.7" r="1.55"/>
<circle cx="221.75" cy="252.7" r="1.55"/>
<circle cx="224.58" cy="252.7" r="1.55"/>
<circle cx="227.41" cy="252.7" r="1.55"/>
<circle cx="230.24" cy="252.7" r="1.55"/>
<circle cx="233.07" cy="252.7" r="1.55"/>
<circle cx="235.9" cy="252.7" r="1.55"/>
<circle cx="238.73" cy="252.7" r="1.55"/>
<circle cx="241.56" cy="252.7" r="1.55"/>
<circle cx="244.39" cy="252.7" r="1.55"/>
<circle cx="247.22" cy="252.7" r="1.55"/>
<circle cx="250.05" cy="252.7" r="1.55"/>
<circle cx="252.88" cy="252.7" r="1.55"/>
<circle cx="255.71" cy="252.7" r="1.55"/>
<circle cx="258.54" cy="252.7" r="1.55"/>
<circle cx="261.37" cy="252.7" r="1.55"/>
<circle cx="264.2" cy="252.7" r="1.55"/>
<circle cx="267.03" cy="252.7" r="1.55"/>
<circle cx="269.86" cy="252.7" r="1.55"/>
<circle cx="272.69" cy="252.7" r="1.55"/>
<circle cx="275.52" cy="252.7" r="1.55"/>
<circle cx="278.35" cy="252.7" r="1.55"/>
<circle cx="281.18" cy="252.7" r="1.55"/>
<circle cx="284.01" cy="252.7" r="1.55"/>
<circle cx="286.84" cy="252.7" r="1.55"/>
<circle cx="289.67" cy="252.7" r="1.55"/>
<circle cx="292.5" cy="252.7" r="1.55"/>
<circle cx="295.33" cy="252.7" r="1.55"/>
<circle cx="298.16" cy="252.7" r="1.55"/>
<circle cx="300.99" cy="252.7" r="1.55"/>
<circle cx="303.82" cy="252.7" r="1.55"/>
<circle cx="306.65" cy="252.7" r="1.55"/>
<circle cx="309.48" cy="252.7" r="1.55"/>
</g>
<path d="M67.16 252.7 L69.99 252.7 L72.82 252.7 L75.65 252.7 L78.48 252.7 L81.31 252.7 L84.14 252.7 L86.97 252.7 L89.8 252.7 L92.63 252.7 L95.46 252.7 L98.29 252.7 L101.12 252.7 L103.95 252.7 L106.78 252.7 L109.61 252.7 L112.44 252.7 L115.27 252.7 L118.1 252.7 L120.93 249.14 L123.76 237.53 L126.59 226.27 L129.42 221.52 L132.25 218.19 L135.08 213.62 L137.91 209.87 L140.74 206.57 L143.57 204.05 L146.4 202.8 L149.23 202.87 L152.06 202.9 L154.89 202.95 L157.72 203.48 L160.55 204.73 L163.38 206.13 L166.21 207.68 L169.04 209.9 L171.87 211.86 L174.7 215.11 L177.53 219.17 L180.36 223.65 L183.19 227.31 L186.02 231.15 L188.85 236.91 L191.68 245.52 L194.51 252.27 L197.34 252.7 L200.17 252.7 L203 252.7 L205.83 252.7 L208.66 252.7 L211.49 252.7 L214.32 252.7 L217.15 252.7 L219.98 252.7 L222.81 252.7 L225.64 252.7 L228.47 252.7 L231.3 252.7 L234.13 252.7 L236.96 252.7 L239.79 252.7 L242.62 252.7 L245.45 252.7 L248.28 252.7 L251.11 252.7 L253.94 252.7 L256.77 252.7 L259.6 252.7 L262.43 252.7 L265.26 252.7 L268.09 252.7 L270.92 252.7 L273.75 252.7 L276.58 252.7 L279.41 252.7 L282.24 252.7 L285.07 252.7 L287.9 252.7 L290.73 252.7 L293.56 252.7 L296.39 252.7 L299.22 252.7 L302.05 252.7 L304.88 252.7 L307.71 252.7 L310.54 252.7" fill="none" stroke="#d2691e" stroke-width="1.1" stroke-linejoin="round"/>
<g fill="#fff" stroke="#d2691e" stroke-width="1">
<circle cx="67.16" cy="252.7" r="1.55"/>
<circle cx="69.99" cy="252.7" r="1.55"/>
<circle cx="72.82" cy="252.7" r="1.55"/>
<circle cx="75.65" cy="252.7" r="1.55"/>
<circle cx="78.48" cy="252.7" r="1.55"/>
<circle cx="81.31" cy="252.7" r="1.55"/>
<circle cx="84.14" cy="252.7" r="1.55"/>
<circle cx="86.97" cy="252.7" r="1.55"/>
<circle cx="89.8" cy="252.7" r="1.55"/>
<circle cx="92.63" cy="252.7" r="1.55"/>
<circle cx="95.46" cy="252.7" r="1.55"/>
<circle cx="98.29" cy="252.7" r="1.55"/>
<circle cx="101.12" cy="252.7" r="1.55"/>
<circle cx="103.95" cy="252.7" r="1.55"/>
<circle cx="106.78" cy="252.7" r="1.55"/>
<circle cx="109.61" cy="252.7" r="1.55"/>
<circle cx="112.44" cy="252.7" r="1.55"/>
<circle cx="115.27" cy="252.7" r="1.55"/>
<circle cx="118.1" cy="252.7" r="1.55"/>
<circle cx="120.93" cy="249.14" r="1.55"/>
<circle cx="123.76" cy="237.53" r="1.55"/>
<circle cx="126.59" cy="226.27" r="1.55"/>
<circle cx="129.42" cy="221.52" r="1.55"/>
<circle cx="132.25" cy="218.19" r="1.55"/>
<circle cx="135.08" cy="213.62" r="1.55"/>
<circle cx="137.91" cy="209.87" r="1.55"/>
<circle cx="140.74" cy="206.57" r="1.55"/>
<circle cx="143.57" cy="204.05" r="1.55"/>
<circle cx="146.4" cy="202.8" r="1.55"/>
<circle cx="149.23" cy="202.87" r="1.55"/>
<circle cx="152.06" cy="202.9" r="1.55"/>
<circle cx="154.89" cy="202.95" r="1.55"/>
<circle cx="157.72" cy="203.48" r="1.55"/>
<circle cx="160.55" cy="204.73" r="1.55"/>
<circle cx="163.38" cy="206.13" r="1.55"/>
<circle cx="166.21" cy="207.68" r="1.55"/>
<circle cx="169.04" cy="209.9" r="1.55"/>
<circle cx="171.87" cy="211.86" r="1.55"/>
<circle cx="174.7" cy="215.11" r="1.55"/>
<circle cx="177.53" cy="219.17" r="1.55"/>
<circle cx="180.36" cy="223.65" r="1.55"/>
<circle cx="183.19" cy="227.31" r="1.55"/>
<circle cx="186.02" cy="231.15" r="1.55"/>
<circle cx="188.85" cy="236.91" r="1.55"/>
<circle cx="191.68" cy="245.52" r="1.55"/>
<circle cx="194.51" cy="252.27" r="1.55"/>
<circle cx="197.34" cy="252.7" r="1.55"/>
<circle cx="200.17" cy="252.7" r="1.55"/>
<circle cx="203" cy="252.7" r="1.55"/>
<circle cx="205.83" cy="252.7" r="1.55"/>
<circle cx="208.66" cy="252.7" r="1.55"/>
<circle cx="211.49" cy="252.7" r="1.55"/>
<circle cx="214.32" cy="252.7" r="1.55"/>
<circle cx="217.15" cy="252.7" r="1.55"/>
<circle cx="219.98" cy="252.7" r="1.55"/>
<circle cx="222.81" cy="252.7" r="1.55"/>
<circle cx="225.64" cy="252.7" r="1.55"/>
<circle cx="228.47" cy="252.7" r="1.55"/>
<circle cx="231.3" cy="252.7" r="1.55"/>
<circle cx="234.13" cy="252.7" r="1.55"/>
<circle cx="236.96" cy="252.7" r="1.55"/>
<circle cx="239.79" cy="252.7" r="1.55"/>
<circle cx="242.62" cy="252.7" r="1.55"/>
<circle cx="245.45" cy="252.7" r="1.55"/>
<circle cx="248.28" cy="252.7" r="1.55"/>
<circle cx="251.11" cy="252.7" r="1.55"/>
<circle cx="253.94" cy="252.7" r="1.55"/>
<circle cx="256.77" cy="252.7" r="1.55"/>
<circle cx="259.6" cy="252.7" r="1.55"/>
<circle cx="262.43" cy="252.7" r="1.55"/>
<circle cx="265.26" cy="252.7" r="1.55"/>
<circle cx="268.09" cy="252.7" r="1.55"/>
<circle cx="270.92" cy="252.7" r="1.55"/>
<circle cx="273.75" cy="252.7" r="1.55"/>
<circle cx="276.58" cy="252.7" r="1.55"/>
<circle cx="279.41" cy="252.7" r="1.55"/>
<circle cx="282.24" cy="252.7" r="1.55"/>
<circle cx="285.07" cy="252.7" r="1.55"/>
<circle cx="287.9" cy="252.7" r="1.55"/>
<circle cx="290.73" cy="252.7" r="1.55"/>
<circle cx="293.56" cy="252.7" r="1.55"/>
<circle cx="296.39" cy="252.7" r="1.55"/>
<circle cx="299.22" cy="252.7" r="1.55"/>
<circle cx="302.05" cy="252.7" r="1.55"/>
<circle cx="304.88" cy="252.7" r="1.55"/>
<circle cx="307.71" cy="252.7" r="1.55"/>
<circle cx="310.54" cy="252.7" r="1.55"/>
</g>
<path d="M66.33 252.7 L69.16 252.7 L71.99 252.7 L74.82 252.7 L77.65 252.7 L80.48 252.7 L83.31 252.7 L86.14 252.7 L88.97 252.7 L91.8 252.7 L94.63 252.7 L97.46 252.7 L100.29 252.7 L103.12 252.7 L105.95 252.7 L108.78 252.7 L111.61 252.7 L114.44 252.7 L117.27 252.7 L120.1 252.7 L122.93 252.7 L125.76 252.7 L128.59 252.67 L131.42 252.09 L134.25 250.84 L137.08 247.9 L139.91 242 L142.74 134.18 L145.57 80.73 L148.4 59.5 L151.23 69.69 L154.06 108.47 L156.89 178.96 L159.72 250.04 L162.55 252.7 L165.38 252.7 L168.21 252.7 L171.04 252.7 L173.87 252.7 L176.7 252.7 L179.53 252.7 L182.36 252.7 L185.19 252.7 L188.02 252.7 L190.85 252.7 L193.68 252.7 L196.51 252.7 L199.34 252.7 L202.17 252.7 L205 252.7 L207.83 252.7 L210.66 252.7 L213.49 252.7 L216.32 252.7 L219.15 252.7 L221.98 252.7 L224.81 252.7 L227.64 252.7 L230.47 252.7 L233.3 252.7 L236.13 252.7 L238.96 252.7 L241.79 252.7 L244.62 252.7 L247.45 252.7 L250.28 252.7 L253.11 252.7 L255.94 252.7 L258.77 252.7 L261.6 252.7 L264.43 252.7 L267.26 252.7 L270.09 252.7 L272.92 252.7 L275.75 252.7 L278.58 252.7 L281.41 252.7 L284.24 252.7 L287.07 252.7 L289.9 252.7 L292.73 252.7 L295.56 252.7 L298.39 252.7 L301.22 252.7 L304.05 252.7 L306.88 252.7 L309.71 252.7" fill="none" stroke="#000000" stroke-width="1.1" stroke-linejoin="round"/>
<g fill="#000000">
<circle cx="66.33" cy="252.7" r="1.7"/>
<circle cx="69.16" cy="252.7" r="1.7"/>
<circle cx="71.99" cy="252.7" r="1.7"/>
<circle cx="74.82" cy="252.7" r="1.7"/>
<circle cx="77.65" cy="252.7" r="1.7"/>
<circle cx="80.48" cy="252.7" r="1.7"/>
<circle cx="83.31" cy="252.7" r="1.7"/>
<circle cx="86.14" cy="252.7" r="1.7"/>
<circle cx="88.97" cy="252.7" r="1.7"/>
<circle cx="91.8" cy="252.7" r="1.7"/>
<circle cx="94.63" cy="252.7" r="1.7"/>
<circle cx="97.46" cy="252.7" r="1.7"/>
<circle cx="100.29" cy="252.7" r="1.7"/>
<circle cx="103.12" cy="252.7" r="1.7"/>
<circle cx="105.95" cy="252.7" r="1.7"/>
<circle cx="108.78" cy="252.7" r="1.7"/>
<circle cx="111.61" cy="252.7" r="1.7"/>
<circle cx="114.44" cy="252.7" r="1.7"/>
<circle cx="117.27" cy="252.7" r="1.7"/>
<circle cx="120.1" cy="252.7" r="1.7"/>
<circle cx="122.93" cy="252.7" r="1.7"/>
<circle cx="125.76" cy="252.7" r="1.7"/>
<circle cx="128.59" cy="252.67" r="1.7"/>
<circle cx="131.42" cy="252.09" r="1.7"/>
<circle cx="134.25" cy="250.84" r="1.7"/>
<circle cx="137.08" cy="247.9" r="1.7"/>
<circle cx="139.91" cy="242" r="1.7"/>
<circle cx="142.74" cy="134.18" r="1.7"/>
<circle cx="145.57" cy="80.73" r="1.7"/>
<circle cx="148.4" cy="59.5" r="1.7"/>
<circle cx="151.23" cy="69.69" r="1.7"/>
<circle cx="154.06" cy="108.47" r="1.7"/>
<circle cx="156.89" cy="178.96" r="1.7"/>
<circle cx="159.72" cy="250.04" r="1.7"/>
<circle cx="162.55" cy="252.7" r="1.7"/>
<circle cx="165.38" cy="252.7" r="1.7"/>
<circle cx="168.21" cy="252.7" r="1.7"/>
<circle cx="171.04" cy="252.7" r="1.7"/>
<circle cx="173.87" cy="252.7" r="1.7"/>
<circle cx="176.7" cy="252.7" r="1.7"/>
<circle cx="179.53" cy="252.7" r="1.7"/>
<circle cx="182.36" cy="252.7" r="1.7"/>
<circle cx="185.19" cy="252.7" r="1.7"/>
<circle cx="188.02" cy="252.7" r="1.7"/>
<circle cx="190.85" cy="252.7" r="1.7"/>
<circle cx="193.68" cy="252.7" r="1.7"/>
<circle cx="196.51" cy="252.7" r="1.7"/>
<circle cx="199.34" cy="252.7" r="1.7"/>
<circle cx="202.17" cy="252.7" r="1.7"/>
<circle cx="205" cy="252.7" r="1.7"/>
<circle cx="207.83" cy="252.7" r="1.7"/>
<circle cx="210.66" cy="252.7" r="1.7"/>
<circle cx="213.49" cy="252.7" r="1.7"/>
<circle cx="216.32" cy="252.7" r="1.7"/>
<circle cx="219.15" cy="252.7" r="1.7"/>
<circle cx="221.98" cy="252.7" r="1.7"/>
<circle cx="224.81" cy="252.7" r="1.7"/>
<circle cx="227.64" cy="252.7" r="1.7"/>
<circle cx="230.47" cy="252.7" r="1.7"/>
<circle cx="233.3" cy="252.7" r="1.7"/>
<circle cx="236.13" cy="252.7" r="1.7"/>
<circle cx="238.96" cy="252.7" r="1.7"/>
<circle cx="241.79" cy="252.7" r="1.7"/>
<circle cx="244.62" cy="252.7" r="1.7"/>
<circle cx="247.45" cy="252.7" r="1.7"/>
<circle cx="250.28" cy="252.7" r="1.7"/>
<circle cx="253.11" cy="252.7" r="1.7"/>
<circle cx="255.94" cy="252.7" r="1.7"/>
<circle cx="258.77" cy="252.7" r="1.7"/>
<circle cx="261.6" cy="252.7" r="1.7"/>
<circle cx="264.43" cy="252.7" r="1.7"/>
<circle cx="267.26" cy="252.7" r="1.7"/>
<circle cx="270.09" cy="252.7" r="1.7"/>
<circle cx="272.92" cy="252.7" r="1.7"/>
<circle cx="275.75" cy="252.7" r="1.7"/>
<circle cx="278.58" cy="252.7" r="1.7"/>
<circle cx="281.41" cy="252.7" r="1.7"/>
<circle cx="284.24" cy="252.7" r="1.7"/>
<circle cx="287.07" cy="252.7" r="1.7"/>
<circle cx="289.9" cy="252.7" r="1.7"/>
<circle cx="292.73" cy="252.7" r="1.7"/>
<circle cx="295.56" cy="252.7" r="1.7"/>
<circle cx="298.39" cy="252.7" r="1.7"/>
<circle cx="301.22" cy="252.7" r="1.7"/>
<circle cx="304.05" cy="252.7" r="1.7"/>
<circle cx="306.88" cy="252.7" r="1.7"/>
<circle cx="309.71" cy="252.7" r="1.7"/>
</g>
<path d="M66.07 252.7 L68.9 252.7 L71.73 252.7 L74.56 252.7 L77.39 252.7 L80.22 252.7 L83.05 252.7 L85.88 252.7 L88.71 252.7 L91.54 252.7 L94.37 252.7 L97.2 252.7 L100.03 252.7 L102.86 252.7 L105.69 252.7 L108.52 252.7 L111.35 252.7 L114.18 252.7 L117.01 252.7 L119.84 252.7 L122.67 252.7 L125.5 252.7 L128.33 248.5 L131.16 226.71 L133.99 219.89 L136.82 206.05 L139.65 195.19 L142.48 184.86 L145.31 177.74 L148.14 172.21 L150.97 169.71 L153.8 168.6 L156.63 171.12 L159.46 175.8 L162.29 182.72 L165.12 191.63 L167.95 201.77 L170.78 217.28 L173.61 232.29 L176.44 252.7 L179.27 252.7 L182.1 252.7 L184.93 252.7 L187.76 252.7 L190.59 252.7 L193.42 252.7 L196.25 252.7 L199.08 252.7 L201.91 252.7 L204.74 252.7 L207.57 252.7 L210.4 252.7 L213.23 252.7 L216.06 252.7 L218.89 252.7 L221.72 252.7 L224.55 252.7 L227.38 252.7 L230.21 252.7 L233.04 252.7 L235.87 252.7 L238.7 252.7 L241.53 252.7 L244.36 252.7 L247.19 252.7 L250.02 252.7 L252.85 252.7 L255.68 252.7 L258.51 252.7 L261.34 252.7 L264.17 252.7 L267 252.7 L269.83 252.7 L272.66 252.7 L275.49 252.7 L278.32 252.7 L281.15 252.7 L283.98 252.7 L286.81 252.7 L289.64 252.7 L292.47 252.7 L295.3 252.7 L298.13 252.7 L300.96 252.7 L303.79 252.7 L306.62 252.7 L309.45 252.7" fill="none" stroke="#0000dd" stroke-width="1.1" stroke-linejoin="round"/>
<g fill="#0000dd">
<circle cx="66.07" cy="252.7" r="1.7"/>
<circle cx="68.9" cy="252.7" r="1.7"/>
<circle cx="71.73" cy="252.7" r="1.7"/>
<circle cx="74.56" cy="252.7" r="1.7"/>
<circle cx="77.39" cy="252.7" r="1.7"/>
<circle cx="80.22" cy="252.7" r="1.7"/>
<circle cx="83.05" cy="252.7" r="1.7"/>
<circle cx="85.88" cy="252.7" r="1.7"/>
<circle cx="88.71" cy="252.7" r="1.7"/>
<circle cx="91.54" cy="252.7" r="1.7"/>
<circle cx="94.37" cy="252.7" r="1.7"/>
<circle cx="97.2" cy="252.7" r="1.7"/>
<circle cx="100.03" cy="252.7" r="1.7"/>
<circle cx="102.86" cy="252.7" r="1.7"/>
<circle cx="105.69" cy="252.7" r="1.7"/>
<circle cx="108.52" cy="252.7" r="1.7"/>
<circle cx="111.35" cy="252.7" r="1.7"/>
<circle cx="114.18" cy="252.7" r="1.7"/>
<circle cx="117.01" cy="252.7" r="1.7"/>
<circle cx="119.84" cy="252.7" r="1.7"/>
<circle cx="122.67" cy="252.7" r="1.7"/>
<circle cx="125.5" cy="252.7" r="1.7"/>
<circle cx="128.33" cy="248.5" r="1.7"/>
<circle cx="131.16" cy="226.71" r="1.7"/>
<circle cx="133.99" cy="219.89" r="1.7"/>
<circle cx="136.82" cy="206.05" r="1.7"/>
<circle cx="139.65" cy="195.19" r="1.7"/>
<circle cx="142.48" cy="184.86" r="1.7"/>
<circle cx="145.31" cy="177.74" r="1.7"/>
<circle cx="148.14" cy="172.21" r="1.7"/>
<circle cx="150.97" cy="169.71" r="1.7"/>
<circle cx="153.8" cy="168.6" r="1.7"/>
<circle cx="156.63" cy="171.12" r="1.7"/>
<circle cx="159.46" cy="175.8" r="1.7"/>
<circle cx="162.29" cy="182.72" r="1.7"/>
<circle cx="165.12" cy="191.63" r="1.7"/>
<circle cx="167.95" cy="201.77" r="1.7"/>
<circle cx="170.78" cy="217.28" r="1.7"/>
<circle cx="173.61" cy="232.29" r="1.7"/>
<circle cx="176.44" cy="252.7" r="1.7"/>
<circle cx="179.27" cy="252.7" r="1.7"/>
<circle cx="182.1" cy="252.7" r="1.7"/>
<circle cx="184.93" cy="252.7" r="1.7"/>
<circle cx="187.76" cy="252.7" r="1.7"/>
<circle cx="190.59" cy="252.7" r="1.7"/>
<circle cx="193.42" cy="252.7" r="1.7"/>
<circle cx="196.25" cy="252.7" r="1.7"/>
<circle cx="199.08" cy="252.7" r="1.7"/>
<circle cx="201.91" cy="252.7" r="1.7"/>
<circle cx="204.74" cy="252.7" r="1.7"/>
<circle cx="207.57" cy="252.7" r="1.7"/>
<circle cx="210.4" cy="252.7" r="1.7"/>
<circle cx="213.23" cy="252.7" r="1.7"/>
<circle cx="216.06" cy="252.7" r="1.7"/>
<circle cx="218.89" cy="252.7" r="1.7"/>
<circle cx="221.72" cy="252.7" r="1.7"/>
<circle cx="224.55" cy="252.7" r="1.7"/>
<circle cx="227.38" cy="252.7" r="1.7"/>
<circle cx="230.21" cy="252.7" r="1.7"/>
<circle cx="233.04" cy="252.7" r="1.7"/>
<circle cx="235.87" cy="252.7" r="1.7"/>
<circle cx="238.7" cy="252.7" r="1.7"/>
<circle cx="241.53" cy="252.7" r="1.7"/>
<circle cx="244.36" cy="252.7" r="1.7"/>
<circle cx="247.19" cy="252.7" r="1.7"/>
<circle cx="250.02" cy="252.7" r="1.7"/>
<circle cx="252.85" cy="252.7" r="1.7"/>
<circle cx="255.68" cy="252.7" r="1.7"/>
<circle cx="258.51" cy="252.7" r="1.7"/>
<circle cx="261.34" cy="252.7" r="1.7"/>
<circle cx="264.17" cy="252.7" r="1.7"/>
<circle cx="267" cy="252.7" r="1.7"/>
<circle cx="269.83" cy="252.7" r="1.7"/>
<circle cx="272.66" cy="252.7" r="1.7"/>
<circle cx="275.49" cy="252.7" r="1.7"/>
<circle cx="278.32" cy="252.7" r="1.7"/>
<circle cx="281.15" cy="252.7" r="1.7"/>
<circle cx="283.98" cy="252.7" r="1.7"/>
<circle cx="286.81" cy="252.7" r="1.7"/>
<circle cx="289.64" cy="252.7" r="1.7"/>
<circle cx="292.47" cy="252.7" r="1.7"/>
<circle cx="295.3" cy="252.7" r="1.7"/>
<circle cx="298.13" cy="252.7" r="1.7"/>
<circle cx="300.96" cy="252.7" r="1.7"/>
<circle cx="303.79" cy="252.7" r="1.7"/>
<circle cx="306.62" cy="252.7" r="1.7"/>
<circle cx="309.45" cy="252.7" r="1.7"/>
</g>
<path d="M65.49 252.7 L68.32 252.7 L71.15 252.7 L73.98 252.7 L76.81 252.7 L79.64 252.7 L82.47 252.7 L85.3 252.7 L88.13 252.7 L90.96 252.7 L93.79 252.7 L96.62 252.7 L99.45 252.7 L102.28 252.7 L105.11 252.7 L107.94 252.7 L110.77 252.7 L113.6 252.7 L116.43 252.7 L119.26 252.7 L122.09 252.7 L124.92 252.7 L127.75 245.22 L130.58 211.75 L133.41 195.35 L136.24 183.39 L139.07 176.12 L141.9 172.6 L144.73 176.51 L147.56 179.83 L150.39 183.67 L153.22 192.89 L156.05 200.74 L158.88 208.46 L161.71 216.17 L164.54 222.38 L167.37 227.9 L170.2 232.57 L173.03 236.16 L175.86 238.71 L178.69 240.31 L181.52 241.2 L184.35 241.73 L187.18 242.1 L190.01 242.37 L192.84 242.29 L195.67 241.94 L198.5 242.01 L201.33 242.43 L204.16 242.96 L206.99 243.7 L209.82 244.83 L212.65 246.81 L215.48 249.56 L218.31 252.67 L221.14 252.7 L223.97 252.7 L226.8 252.7 L229.63 252.7 L232.46 252.7 L235.29 252.7 L238.12 252.7 L240.95 252.7 L243.78 252.7 L246.61 252.7 L249.44 252.7 L252.27 252.7 L255.1 252.7 L257.93 252.7 L260.76 252.7 L263.59 252.7 L266.42 252.7 L269.25 252.7 L272.08 252.7 L274.91 252.7 L277.74 252.7 L280.57 252.7 L283.4 252.7 L286.23 252.7 L289.06 252.7 L291.89 252.7 L294.72 252.7 L297.55 252.7 L300.38 252.7 L303.21 252.7 L306.04 252.7 L308.87 252.7" fill="none" stroke="#ff0000" stroke-width="1.1" stroke-linejoin="round"/>
<g fill="#ff0000">
<circle cx="65.49" cy="252.7" r="1.7"/>
<circle cx="68.32" cy="252.7" r="1.7"/>
<circle cx="71.15" cy="252.7" r="1.7"/>
<circle cx="73.98" cy="252.7" r="1.7"/>
<circle cx="76.81" cy="252.7" r="1.7"/>
<circle cx="79.64" cy="252.7" r="1.7"/>
<circle cx="82.47" cy="252.7" r="1.7"/>
<circle cx="85.3" cy="252.7" r="1.7"/>
<circle cx="88.13" cy="252.7" r="1.7"/>
<circle cx="90.96" cy="252.7" r="1.7"/>
<circle cx="93.79" cy="252.7" r="1.7"/>
<circle cx="96.62" cy="252.7" r="1.7"/>
<circle cx="99.45" cy="252.7" r="1.7"/>
<circle cx="102.28" cy="252.7" r="1.7"/>
<circle cx="105.11" cy="252.7" r="1.7"/>
<circle cx="107.94" cy="252.7" r="1.7"/>
<circle cx="110.77" cy="252.7" r="1.7"/>
<circle cx="113.6" cy="252.7" r="1.7"/>
<circle cx="116.43" cy="252.7" r="1.7"/>
<circle cx="119.26" cy="252.7" r="1.7"/>
<circle cx="122.09" cy="252.7" r="1.7"/>
<circle cx="124.92" cy="252.7" r="1.7"/>
<circle cx="127.75" cy="245.22" r="1.7"/>
<circle cx="130.58" cy="211.75" r="1.7"/>
<circle cx="133.41" cy="195.35" r="1.7"/>
<circle cx="136.24" cy="183.39" r="1.7"/>
<circle cx="139.07" cy="176.12" r="1.7"/>
<circle cx="141.9" cy="172.6" r="1.7"/>
<circle cx="144.73" cy="176.51" r="1.7"/>
<circle cx="147.56" cy="179.83" r="1.7"/>
<circle cx="150.39" cy="183.67" r="1.7"/>
<circle cx="153.22" cy="192.89" r="1.7"/>
<circle cx="156.05" cy="200.74" r="1.7"/>
<circle cx="158.88" cy="208.46" r="1.7"/>
<circle cx="161.71" cy="216.17" r="1.7"/>
<circle cx="164.54" cy="222.38" r="1.7"/>
<circle cx="167.37" cy="227.9" r="1.7"/>
<circle cx="170.2" cy="232.57" r="1.7"/>
<circle cx="173.03" cy="236.16" r="1.7"/>
<circle cx="175.86" cy="238.71" r="1.7"/>
<circle cx="178.69" cy="240.31" r="1.7"/>
<circle cx="181.52" cy="241.2" r="1.7"/>
<circle cx="184.35" cy="241.73" r="1.7"/>
<circle cx="187.18" cy="242.1" r="1.7"/>
<circle cx="190.01" cy="242.37" r="1.7"/>
<circle cx="192.84" cy="242.29" r="1.7"/>
<circle cx="195.67" cy="241.94" r="1.7"/>
<circle cx="198.5" cy="242.01" r="1.7"/>
<circle cx="201.33" cy="242.43" r="1.7"/>
<circle cx="204.16" cy="242.96" r="1.7"/>
<circle cx="206.99" cy="243.7" r="1.7"/>
<circle cx="209.82" cy="244.83" r="1.7"/>
<circle cx="212.65" cy="246.81" r="1.7"/>
<circle cx="215.48" cy="249.56" r="1.7"/>
<circle cx="218.31" cy="252.67" r="1.7"/>
<circle cx="221.14" cy="252.7" r="1.7"/>
<circle cx="223.97" cy="252.7" r="1.7"/>
<circle cx="226.8" cy="252.7" r="1.7"/>
<circle cx="229.63" cy="252.7" r="1.7"/>
<circle cx="232.46" cy="252.7" r="1.7"/>
<circle cx="235.29" cy="252.7" r="1.7"/>
<circle cx="238.12" cy="252.7" r="1.7"/>
<circle cx="240.95" cy="252.7" r="1.7"/>
<circle cx="243.78" cy="252.7" r="1.7"/>
<circle cx="246.61" cy="252.7" r="1.7"/>
<circle cx="249.44" cy="252.7" r="1.7"/>
<circle cx="252.27" cy="252.7" r="1.7"/>
<circle cx="255.1" cy="252.7" r="1.7"/>
<circle cx="257.93" cy="252.7" r="1.7"/>
<circle cx="260.76" cy="252.7" r="1.7"/>
<circle cx="263.59" cy="252.7" r="1.7"/>
<circle cx="266.42" cy="252.7" r="1.7"/>
<circle cx="269.25" cy="252.7" r="1.7"/>
<circle cx="272.08" cy="252.7" r="1.7"/>
<circle cx="274.91" cy="252.7" r="1.7"/>
<circle cx="277.74" cy="252.7" r="1.7"/>
<circle cx="280.57" cy="252.7" r="1.7"/>
<circle cx="283.4" cy="252.7" r="1.7"/>
<circle cx="286.23" cy="252.7" r="1.7"/>
<circle cx="289.06" cy="252.7" r="1.7"/>
<circle cx="291.89" cy="252.7" r="1.7"/>
<circle cx="294.72" cy="252.7" r="1.7"/>
<circle cx="297.55" cy="252.7" r="1.7"/>
<circle cx="300.38" cy="252.7" r="1.7"/>
<circle cx="303.21" cy="252.7" r="1.7"/>
<circle cx="306.04" cy="252.7" r="1.7"/>
<circle cx="308.87" cy="252.7" r="1.7"/>
</g>
<path d="M66.3 252.7 L69.13 252.7 L71.96 252.7 L74.79 252.7 L77.62 252.7 L80.45 252.7 L83.28 252.7 L86.11 252.7 L88.94 252.7 L91.77 252.7 L94.6 252.7 L97.43 252.7 L100.26 252.7 L103.09 252.7 L105.92 252.7 L108.75 252.7 L111.58 252.7 L114.41 252.7 L117.24 252.7 L120.07 252.7 L122.9 252.7 L125.73 237.81 L128.56 225.82 L131.39 219.09 L134.22 210.85 L137.05 204.6 L139.88 199.54 L142.71 193.29 L145.54 190.17 L148.37 187.86 L151.2 186.6 L154.03 186.6 L156.86 188.2 L159.69 190.22 L162.52 194.2 L165.35 199.27 L168.18 204.37 L171.01 211.48 L173.84 218.91 L176.67 226.75 L179.5 234.35 L182.33 241.81 L185.16 248.4 L187.99 252.7 L190.82 252.7 L193.65 252.7 L196.48 252.7 L199.31 252.7 L202.14 252.7 L204.97 252.7 L207.8 252.7 L210.63 252.7 L213.46 252.7 L216.29 252.7 L219.12 252.7 L221.95 252.7 L224.78 252.7 L227.61 252.7 L230.44 252.7 L233.27 252.7 L236.1 252.7 L238.93 252.7 L241.76 252.7 L244.59 252.7 L247.42 252.7 L250.25 252.7 L253.08 252.7 L255.91 252.7 L258.74 252.7 L261.57 252.7 L264.4 252.7 L267.23 252.7 L270.06 252.7 L272.89 252.7 L275.72 252.7 L278.55 252.7 L281.38 252.7 L284.21 252.7 L287.04 252.7 L289.87 252.7 L292.7 252.7 L295.53 252.7 L298.36 252.7 L301.19 252.7 L304.02 252.7 L306.85 252.7 L309.68 252.7" fill="none" stroke="#008000" stroke-width="1.1" stroke-linejoin="round"/>
<g fill="#008000">
<circle cx="66.3" cy="252.7" r="1.7"/>
<circle cx="69.13" cy="252.7" r="1.7"/>
<circle cx="71.96" cy="252.7" r="1.7"/>
<circle cx="74.79" cy="252.7" r="1.7"/>
<circle cx="77.62" cy="252.7" r="1.7"/>
<circle cx="80.45" cy="252.7" r="1.7"/>
<circle cx="83.28" cy="252.7" r="1.7"/>
<circle cx="86.11" cy="252.7" r="1.7"/>
<circle cx="88.94" cy="252.7" r="1.7"/>
<circle cx="91.77" cy="252.7" r="1.7"/>
<circle cx="94.6" cy="252.7" r="1.7"/>
<circle cx="97.43" cy="252.7" r="1.7"/>
<circle cx="100.26" cy="252.7" r="1.7"/>
<circle cx="103.09" cy="252.7" r="1.7"/>
<circle cx="105.92" cy="252.7" r="1.7"/>
<circle cx="108.75" cy="252.7" r="1.7"/>
<circle cx="111.58" cy="252.7" r="1.7"/>
<circle cx="114.41" cy="252.7" r="1.7"/>
<circle cx="117.24" cy="252.7" r="1.7"/>
<circle cx="120.07" cy="252.7" r="1.7"/>
<circle cx="122.9" cy="252.7" r="1.7"/>
<circle cx="125.73" cy="237.81" r="1.7"/>
<circle cx="128.56" cy="225.82" r="1.7"/>
<circle cx="131.39" cy="219.09" r="1.7"/>
<circle cx="134.22" cy="210.85" r="1.7"/>
<circle cx="137.05" cy="204.6" r="1.7"/>
<circle cx="139.88" cy="199.54" r="1.7"/>
<circle cx="142.71" cy="193.29" r="1.7"/>
<circle cx="145.54" cy="190.17" r="1.7"/>
<circle cx="148.37" cy="187.86" r="1.7"/>
<circle cx="151.2" cy="186.6" r="1.7"/>
<circle cx="154.03" cy="186.6" r="1.7"/>
<circle cx="156.86" cy="188.2" r="1.7"/>
<circle cx="159.69" cy="190.22" r="1.7"/>
<circle cx="162.52" cy="194.2" r="1.7"/>
<circle cx="165.35" cy="199.27" r="1.7"/>
<circle cx="168.18" cy="204.37" r="1.7"/>
<circle cx="171.01" cy="211.48" r="1.7"/>
<circle cx="173.84" cy="218.91" r="1.7"/>
<circle cx="176.67" cy="226.75" r="1.7"/>
<circle cx="179.5" cy="234.35" r="1.7"/>
<circle cx="182.33" cy="241.81" r="1.7"/>
<circle cx="185.16" cy="248.4" r="1.7"/>
<circle cx="187.99" cy="252.7" r="1.7"/>
<circle cx="190.82" cy="252.7" r="1.7"/>
<circle cx="193.65" cy="252.7" r="1.7"/>
<circle cx="196.48" cy="252.7" r="1.7"/>
<circle cx="199.31" cy="252.7" r="1.7"/>
<circle cx="202.14" cy="252.7" r="1.7"/>
<circle cx="204.97" cy="252.7" r="1.7"/>
<circle cx="207.8" cy="252.7" r="1.7"/>
<circle cx="210.63" cy="252.7" r="1.7"/>
<circle cx="213.46" cy="252.7" r="1.7"/>
<circle cx="216.29" cy="252.7" r="1.7"/>
<circle cx="219.12" cy="252.7" r="1.7"/>
<circle cx="221.95" cy="252.7" r="1.7"/>
<circle cx="224.78" cy="252.7" r="1.7"/>
<circle cx="227.61" cy="252.7" r="1.7"/>
<circle cx="230.44" cy="252.7" r="1.7"/>
<circle cx="233.27" cy="252.7" r="1.7"/>
<circle cx="236.1" cy="252.7" r="1.7"/>
<circle cx="238.93" cy="252.7" r="1.7"/>
<circle cx="241.76" cy="252.7" r="1.7"/>
<circle cx="244.59" cy="252.7" r="1.7"/>
<circle cx="247.42" cy="252.7" r="1.7"/>
<circle cx="250.25" cy="252.7" r="1.7"/>
<circle cx="253.08" cy="252.7" r="1.7"/>
<circle cx="255.91" cy="252.7" r="1.7"/>
<circle cx="258.74" cy="252.7" r="1.7"/>
<circle cx="261.57" cy="252.7" r="1.7"/>
<circle cx="264.4" cy="252.7" r="1.7"/>
<circle cx="267.23" cy="252.7" r="1.7"/>
<circle cx="270.06" cy="252.7" r="1.7"/>
<circle cx="272.89" cy="252.7" r="1.7"/>
<circle cx="275.72" cy="252.7" r="1.7"/>
<circle cx="278.55" cy="252.7" r="1.7"/>
<circle cx="281.38" cy="252.7" r="1.7"/>
<circle cx="284.21" cy="252.7" r="1.7"/>
<circle cx="287.04" cy="252.7" r="1.7"/>
<circle cx="289.87" cy="252.7" r="1.7"/>
<circle cx="292.7" cy="252.7" r="1.7"/>
<circle cx="295.53" cy="252.7" r="1.7"/>
<circle cx="298.36" cy="252.7" r="1.7"/>
<circle cx="301.19" cy="252.7" r="1.7"/>
<circle cx="304.02" cy="252.7" r="1.7"/>
<circle cx="306.85" cy="252.7" r="1.7"/>
<circle cx="309.68" cy="252.7" r="1.7"/>
</g>
<path d="M65.99 252.7 L68.82 252.7 L71.65 252.7 L74.48 252.7 L77.31 252.7 L80.14 252.7 L82.97 252.7 L85.8 252.7 L88.63 252.7 L91.46 252.7 L94.29 252.7 L97.12 252.7 L99.95 252.7 L102.78 252.7 L105.61 252.7 L108.44 252.7 L111.27 252.7 L114.1 252.7 L116.93 252.7 L119.76 252.7 L122.59 252.7 L125.42 252.7 L128.25 224.41 L131.08 208.93 L133.91 195.85 L136.74 188.1 L139.57 184.27 L142.4 182.9 L145.23 184.29 L148.06 186.99 L150.89 191.18 L153.72 195.92 L156.55 202.13 L159.38 207.84 L162.21 213.17 L165.04 219.85 L167.87 224.92 L170.7 230.34 L173.53 234.85 L176.36 238.88 L179.19 241.27 L182.02 243.63 L184.85 245.75 L187.68 246.84 L190.51 247.47 L193.34 247.54 L196.17 247.58 L199 247.6 L201.83 247.58 L204.66 247.37 L207.49 247.05 L210.32 246.65 L213.15 246.2 L215.98 246.1 L218.81 246.1 L221.64 246.1 L224.47 246.1 L227.3 246.54 L230.13 247.31 L232.96 248.22 L235.79 249.19 L238.62 250.36 L241.45 252.39 L244.28 252.7 L247.11 252.7 L249.94 252.7 L252.77 252.7 L255.6 252.7 L258.43 252.7 L261.26 252.7 L264.09 252.7 L266.92 252.7 L269.75 252.7 L272.58 252.7 L275.41 252.7 L278.24 252.7 L281.07 252.7 L283.9 252.7 L286.73 252.7 L289.56 252.7 L292.39 252.7 L295.22 252.7 L298.05 252.7 L300.88 252.7 L303.71 252.7 L306.54 252.7 L309.37 252.7" fill="none" stroke="#9400d3" stroke-width="1.1" stroke-linejoin="round"/>
<g fill="#9400d3">
<circle cx="65.99" cy="252.7" r="1.7"/>
<circle cx="68.82" cy="252.7" r="1.7"/>
<circle cx="71.65" cy="252.7" r="1.7"/>
<circle cx="74.48" cy="252.7" r="1.7"/>
<circle cx="77.31" cy="252.7" r="1.7"/>
<circle cx="80.14" cy="252.7" r="1.7"/>
<circle cx="82.97" cy="252.7" r="1.7"/>
<circle cx="85.8" cy="252.7" r="1.7"/>
<circle cx="88.63" cy="252.7" r="1.7"/>
<circle cx="91.46" cy="252.7" r="1.7"/>
<circle cx="94.29" cy="252.7" r="1.7"/>
<circle cx="97.12" cy="252.7" r="1.7"/>
<circle cx="99.95" cy="252.7" r="1.7"/>
<circle cx="102.78" cy="252.7" r="1.7"/>
<circle cx="105.61" cy="252.7" r="1.7"/>
<circle cx="108.44" cy="252.7" r="1.7"/>
<circle cx="111.27" cy="252.7" r="1.7"/>
<circle cx="114.1" cy="252.7" r="1.7"/>
<circle cx="116.93" cy="252.7" r="1.7"/>
<circle cx="119.76" cy="252.7" r="1.7"/>
<circle cx="122.59" cy="252.7" r="1.7"/>
<circle cx="125.42" cy="252.7" r="1.7"/>
<circle cx="128.25" cy="224.41" r="1.7"/>
<circle cx="131.08" cy="208.93" r="1.7"/>
<circle cx="133.91" cy="195.85" r="1.7"/>
<circle cx="136.74" cy="188.1" r="1.7"/>
<circle cx="139.57" cy="184.27" r="1.7"/>
<circle cx="142.4" cy="182.9" r="1.7"/>
<circle cx="145.23" cy="184.29" r="1.7"/>
<circle cx="148.06" cy="186.99" r="1.7"/>
<circle cx="150.89" cy="191.18" r="1.7"/>
<circle cx="153.72" cy="195.92" r="1.7"/>
<circle cx="156.55" cy="202.13" r="1.7"/>
<circle cx="159.38" cy="207.84" r="1.7"/>
<circle cx="162.21" cy="213.17" r="1.7"/>
<circle cx="165.04" cy="219.85" r="1.7"/>
<circle cx="167.87" cy="224.92" r="1.7"/>
<circle cx="170.7" cy="230.34" r="1.7"/>
<circle cx="173.53" cy="234.85" r="1.7"/>
<circle cx="176.36" cy="238.88" r="1.7"/>
<circle cx="179.19" cy="241.27" r="1.7"/>
<circle cx="182.02" cy="243.63" r="1.7"/>
<circle cx="184.85" cy="245.75" r="1.7"/>
<circle cx="187.68" cy="246.84" r="1.7"/>
<circle cx="190.51" cy="247.47" r="1.7"/>
<circle cx="193.34" cy="247.54" r="1.7"/>
<circle cx="196.17" cy="247.58" r="1.7"/>
<circle cx="199" cy="247.6" r="1.7"/>
<circle cx="201.83" cy="247.58" r="1.7"/>
<circle cx="204.66" cy="247.37" r="1.7"/>
<circle cx="207.49" cy="247.05" r="1.7"/>
<circle cx="210.32" cy="246.65" r="1.7"/>
<circle cx="213.15" cy="246.2" r="1.7"/>
<circle cx="215.98" cy="246.1" r="1.7"/>
<circle cx="218.81" cy="246.1" r="1.7"/>
<circle cx="221.64" cy="246.1" r="1.7"/>
<circle cx="224.47" cy="246.1" r="1.7"/>
<circle cx="227.3" cy="246.54" r="1.7"/>
<circle cx="230.13" cy="247.31" r="1.7"/>
<circle cx="232.96" cy="248.22" r="1.7"/>
<circle cx="235.79" cy="249.19" r="1.7"/>
<circle cx="238.62" cy="250.36" r="1.7"/>
<circle cx="241.45" cy="252.39" r="1.7"/>
<circle cx="244.28" cy="252.7" r="1.7"/>
<circle cx="247.11" cy="252.7" r="1.7"/>
<circle cx="249.94" cy="252.7" r="1.7"/>
<circle cx="252.77" cy="252.7" r="1.7"/>
<circle cx="255.6" cy="252.7" r="1.7"/>
<circle cx="258.43" cy="252.7" r="1.7"/>
<circle cx="261.26" cy="252.7" r="1.7"/>
<circle cx="264.09" cy="252.7" r="1.7"/>
<circle cx="266.92" cy="252.7" r="1.7"/>
<circle cx="269.75" cy="252.7" r="1.7"/>
<circle cx="272.58" cy="252.7" r="1.7"/>
<circle cx="275.41" cy="252.7" r="1.7"/>
<circle cx="278.24" cy="252.7" r="1.7"/>
<circle cx="281.07" cy="252.7" r="1.7"/>
<circle cx="283.9" cy="252.7" r="1.7"/>
<circle cx="286.73" cy="252.7" r="1.7"/>
<circle cx="289.56" cy="252.7" r="1.7"/>
<circle cx="292.39" cy="252.7" r="1.7"/>
<circle cx="295.22" cy="252.7" r="1.7"/>
<circle cx="298.05" cy="252.7" r="1.7"/>
<circle cx="300.88" cy="252.7" r="1.7"/>
<circle cx="303.71" cy="252.7" r="1.7"/>
<circle cx="306.54" cy="252.7" r="1.7"/>
<circle cx="309.37" cy="252.7" r="1.7"/>
</g>
<path d="M412.75 170.07 L415.58 179.76 L418.41 196.82 L421.24 223.87 L424.07 251.8 L426.9 251.8 L429.73 251.8 L432.56 251.8 L435.39 251.8 L438.22 251.8 L441.05 251.8 L443.88 251.8 L446.71 251.8 L449.54 251.8 L452.37 251.8 L455.2 251.8 L458.03 251.8 L460.86 251.8 L463.69 251.8 L466.52 251.8 L469.35 251.8 L472.18 251.8 L475.01 251.8 L477.84 251.8 L480.67 251.8 L483.5 251.8 L486.33 251.8 L489.16 251.8 L491.99 251.8 L494.82 251.8 L497.65 251.8 L500.48 251.8 L503.31 251.8 L506.14 251.8 L508.97 251.8 L511.8 251.8 L514.63 246.79 L517.46 233.41 L520.29 217.85 L523.12 206.71 L525.95 196.59 L528.78 187.44 L531.61 181.32 L534.44 176.42 L537.27 171.37 L540.1 168.5 L542.93 167.91 L545.76 168.26 L548.59 169.14 L551.42 170.62 L554.25 173.68 L557.08 178.89 L559.91 183.38 L562.74 188.41 L565.57 193.23 L568.4 199.66 L571.23 204.49 L574.06 209.5 L576.89 215.46 L579.72 220.11 L582.55 225.03 L585.38 230.76 L588.21 236.42 L591.04 242.1 L593.87 248.04 L596.7 251.8 L599.53 251.8 L602.36 251.8 L605.19 251.8 L608.02 251.8 L610.85 251.8 L613.68 251.8 L616.51 251.8 L619.34 251.8 L622.17 251.8 L625 251.8 L627.83 251.8 L630.66 251.8 L633.49 251.8 L636.32 251.8 L639.15 251.8 L641.98 251.8 L644.81 251.8 L647.64 251.8 L650.47 251.8 L653.3 251.8 L656.13 251.8 L658.96 251.8" fill="none" stroke="#000000" stroke-width="1.1" stroke-linejoin="round"/>
<g fill="#fff" stroke="#000000" stroke-width="1">
<circle cx="412.75" cy="170.07" r="1.55"/>
<circle cx="415.58" cy="179.76" r="1.55"/>
<circle cx="418.41" cy="196.82" r="1.55"/>
<circle cx="421.24" cy="223.87" r="1.55"/>
<circle cx="424.07" cy="251.8" r="1.55"/>
<circle cx="426.9" cy="251.8" r="1.55"/>
<circle cx="429.73" cy="251.8" r="1.55"/>
<circle cx="432.56" cy="251.8" r="1.55"/>
<circle cx="435.39" cy="251.8" r="1.55"/>
<circle cx="438.22" cy="251.8" r="1.55"/>
<circle cx="441.05" cy="251.8" r="1.55"/>
<circle cx="443.88" cy="251.8" r="1.55"/>
<circle cx="446.71" cy="251.8" r="1.55"/>
<circle cx="449.54" cy="251.8" r="1.55"/>
<circle cx="452.37" cy="251.8" r="1.55"/>
<circle cx="455.2" cy="251.8" r="1.55"/>
<circle cx="458.03" cy="251.8" r="1.55"/>
<circle cx="460.86" cy="251.8" r="1.55"/>
<circle cx="463.69" cy="251.8" r="1.55"/>
<circle cx="466.52" cy="251.8" r="1.55"/>
<circle cx="469.35" cy="251.8" r="1.55"/>
<circle cx="472.18" cy="251.8" r="1.55"/>
<circle cx="475.01" cy="251.8" r="1.55"/>
<circle cx="477.84" cy="251.8" r="1.55"/>
<circle cx="480.67" cy="251.8" r="1.55"/>
<circle cx="483.5" cy="251.8" r="1.55"/>
<circle cx="486.33" cy="251.8" r="1.55"/>
<circle cx="489.16" cy="251.8" r="1.55"/>
<circle cx="491.99" cy="251.8" r="1.55"/>
<circle cx="494.82" cy="251.8" r="1.55"/>
<circle cx="497.65" cy="251.8" r="1.55"/>
<circle cx="500.48" cy="251.8" r="1.55"/>
<circle cx="503.31" cy="251.8" r="1.55"/>
<circle cx="506.14" cy="251.8" r="1.55"/>
<circle cx="508.97" cy="251.8" r="1.55"/>
<circle cx="511.8" cy="251.8" r="1.55"/>
<circle cx="514.63" cy="246.79" r="1.55"/>
<circle cx="517.46" cy="233.41" r="1.55"/>
<circle cx="520.29" cy="217.85" r="1.55"/>
<circle cx="523.12" cy="206.71" r="1.55"/>
<circle cx="525.95" cy="196.59" r="1.55"/>
<circle cx="528.78" cy="187.44" r="1.55"/>
<circle cx="531.61" cy="181.32" r="1.55"/>
<circle cx="534.44" cy="176.42" r="1.55"/>
<circle cx="537.27" cy="171.37" r="1.55"/>
<circle cx="540.1" cy="168.5" r="1.55"/>
<circle cx="542.93" cy="167.91" r="1.55"/>
<circle cx="545.76" cy="168.26" r="1.55"/>
<circle cx="548.59" cy="169.14" r="1.55"/>
<circle cx="551.42" cy="170.62" r="1.55"/>
<circle cx="554.25" cy="173.68" r="1.55"/>
<circle cx="557.08" cy="178.89" r="1.55"/>
<circle cx="559.91" cy="183.38" r="1.55"/>
<circle cx="562.74" cy="188.41" r="1.55"/>
<circle cx="565.57" cy="193.23" r="1.55"/>
<circle cx="568.4" cy="199.66" r="1.55"/>
<circle cx="571.23" cy="204.49" r="1.55"/>
<circle cx="574.06" cy="209.5" r="1.55"/>
<circle cx="576.89" cy="215.46" r="1.55"/>
<circle cx="579.72" cy="220.11" r="1.55"/>
<circle cx="582.55" cy="225.03" r="1.55"/>
<circle cx="585.38" cy="230.76" r="1.55"/>
<circle cx="588.21" cy="236.42" r="1.55"/>
<circle cx="591.04" cy="242.1" r="1.55"/>
<circle cx="593.87" cy="248.04" r="1.55"/>
<circle cx="596.7" cy="251.8" r="1.55"/>
<circle cx="599.53" cy="251.8" r="1.55"/>
<circle cx="602.36" cy="251.8" r="1.55"/>
<circle cx="605.19" cy="251.8" r="1.55"/>
<circle cx="608.02" cy="251.8" r="1.55"/>
<circle cx="610.85" cy="251.8" r="1.55"/>
<circle cx="613.68" cy="251.8" r="1.55"/>
<circle cx="616.51" cy="251.8" r="1.55"/>
<circle cx="619.34" cy="251.8" r="1.55"/>
<circle cx="622.17" cy="251.8" r="1.55"/>
<circle cx="625" cy="251.8" r="1.55"/>
<circle cx="627.83" cy="251.8" r="1.55"/>
<circle cx="630.66" cy="251.8" r="1.55"/>
<circle cx="633.49" cy="251.8" r="1.55"/>
<circle cx="636.32" cy="251.8" r="1.55"/>
<circle cx="639.15" cy="251.8" r="1.55"/>
<circle cx="641.98" cy="251.8" r="1.55"/>
<circle cx="644.81" cy="251.8" r="1.55"/>
<circle cx="647.64" cy="251.8" r="1.55"/>
<circle cx="650.47" cy="251.8" r="1.55"/>
<circle cx="653.3" cy="251.8" r="1.55"/>
<circle cx="656.13" cy="251.8" r="1.55"/>
<circle cx="658.96" cy="251.8" r="1.55"/>
</g>
<path d="M415.22 251.8 L418.05 251.8 L420.88 251.8 L423.71 232.83 L426.54 195.3 L429.37 174.37 L432.2 166 L435.03 166 L437.86 174.12 L440.69 188.33 L443.52 213.2 L446.35 228.18 L449.18 251.8 L452.01 251.8 L454.84 251.8 L457.67 251.8 L460.5 251.8 L463.33 251.8 L466.16 251.8 L468.99 251.8 L471.82 251.8 L474.65 251.8 L477.48 251.8 L480.31 251.8 L483.14 251.8 L485.97 251.8 L488.8 251.8 L491.63 251.8 L494.46 251.8 L497.29 251.8 L500.12 251.8 L502.95 251.8 L505.78 249.55 L508.61 231.45 L511.44 216.99 L514.27 206.13 L517.1 193.05 L519.93 181.08 L522.76 172.73 L525.59 167.17 L528.42 163.05 L531.25 160.23 L534.08 159.9 L536.91 160.86 L539.74 163.47 L542.57 167.69 L545.4 172.67 L548.23 177.5 L551.06 182.47 L553.89 188.07 L556.72 197.33 L559.55 205.78 L562.38 215.4 L565.21 225.41 L568.04 235.72 L570.87 246.94 L573.7 251.8 L576.53 251.8 L579.36 251.8 L582.19 251.8 L585.02 251.8 L587.85 251.8 L590.68 251.8 L593.51 251.8 L596.34 251.8 L599.17 251.8 L602 251.8 L604.83 251.8 L607.66 251.8 L610.49 251.8 L613.32 251.8 L616.15 251.8 L618.98 251.8 L621.81 251.8 L624.64 251.8 L627.47 251.8 L630.3 251.8 L633.13 251.8 L635.96 251.8 L638.79 251.8 L641.62 251.8 L644.45 251.8 L647.28 251.8 L650.11 251.8 L652.94 251.8 L655.77 251.8 L658.6 251.8" fill="none" stroke="#0000dd" stroke-width="1.1" stroke-linejoin="round"/>
<g fill="#fff" stroke="#0000dd" stroke-width="1">
<circle cx="415.22" cy="251.8" r="1.55"/>
<circle cx="418.05" cy="251.8" r="1.55"/>
<circle cx="420.88" cy="251.8" r="1.55"/>
<circle cx="423.71" cy="232.83" r="1.55"/>
<circle cx="426.54" cy="195.3" r="1.55"/>
<circle cx="429.37" cy="174.37" r="1.55"/>
<circle cx="432.2" cy="166" r="1.55"/>
<circle cx="435.03" cy="166" r="1.55"/>
<circle cx="437.86" cy="174.12" r="1.55"/>
<circle cx="440.69" cy="188.33" r="1.55"/>
<circle cx="443.52" cy="213.2" r="1.55"/>
<circle cx="446.35" cy="228.18" r="1.55"/>
<circle cx="449.18" cy="251.8" r="1.55"/>
<circle cx="452.01" cy="251.8" r="1.55"/>
<circle cx="454.84" cy="251.8" r="1.55"/>
<circle cx="457.67" cy="251.8" r="1.55"/>
<circle cx="460.5" cy="251.8" r="1.55"/>
<circle cx="463.33" cy="251.8" r="1.55"/>
<circle cx="466.16" cy="251.8" r="1.55"/>
<circle cx="468.99" cy="251.8" r="1.55"/>
<circle cx="471.82" cy="251.8" r="1.55"/>
<circle cx="474.65" cy="251.8" r="1.55"/>
<circle cx="477.48" cy="251.8" r="1.55"/>
<circle cx="480.31" cy="251.8" r="1.55"/>
<circle cx="483.14" cy="251.8" r="1.55"/>
<circle cx="485.97" cy="251.8" r="1.55"/>
<circle cx="488.8" cy="251.8" r="1.55"/>
<circle cx="491.63" cy="251.8" r="1.55"/>
<circle cx="494.46" cy="251.8" r="1.55"/>
<circle cx="497.29" cy="251.8" r="1.55"/>
<circle cx="500.12" cy="251.8" r="1.55"/>
<circle cx="502.95" cy="251.8" r="1.55"/>
<circle cx="505.78" cy="249.55" r="1.55"/>
<circle cx="508.61" cy="231.45" r="1.55"/>
<circle cx="511.44" cy="216.99" r="1.55"/>
<circle cx="514.27" cy="206.13" r="1.55"/>
<circle cx="517.1" cy="193.05" r="1.55"/>
<circle cx="519.93" cy="181.08" r="1.55"/>
<circle cx="522.76" cy="172.73" r="1.55"/>
<circle cx="525.59" cy="167.17" r="1.55"/>
<circle cx="528.42" cy="163.05" r="1.55"/>
<circle cx="531.25" cy="160.23" r="1.55"/>
<circle cx="534.08" cy="159.9" r="1.55"/>
<circle cx="536.91" cy="160.86" r="1.55"/>
<circle cx="539.74" cy="163.47" r="1.55"/>
<circle cx="542.57" cy="167.69" r="1.55"/>
<circle cx="545.4" cy="172.67" r="1.55"/>
<circle cx="548.23" cy="177.5" r="1.55"/>
<circle cx="551.06" cy="182.47" r="1.55"/>
<circle cx="553.89" cy="188.07" r="1.55"/>
<circle cx="556.72" cy="197.33" r="1.55"/>
<circle cx="559.55" cy="205.78" r="1.55"/>
<circle cx="562.38" cy="215.4" r="1.55"/>
<circle cx="565.21" cy="225.41" r="1.55"/>
<circle cx="568.04" cy="235.72" r="1.55"/>
<circle cx="570.87" cy="246.94" r="1.55"/>
<circle cx="573.7" cy="251.8" r="1.55"/>
<circle cx="576.53" cy="251.8" r="1.55"/>
<circle cx="579.36" cy="251.8" r="1.55"/>
<circle cx="582.19" cy="251.8" r="1.55"/>
<circle cx="585.02" cy="251.8" r="1.55"/>
<circle cx="587.85" cy="251.8" r="1.55"/>
<circle cx="590.68" cy="251.8" r="1.55"/>
<circle cx="593.51" cy="251.8" r="1.55"/>
<circle cx="596.34" cy="251.8" r="1.55"/>
<circle cx="599.17" cy="251.8" r="1.55"/>
<circle cx="602" cy="251.8" r="1.55"/>
<circle cx="604.83" cy="251.8" r="1.55"/>
<circle cx="607.66" cy="251.8" r="1.55"/>
<circle cx="610.49" cy="251.8" r="1.55"/>
<circle cx="613.32" cy="251.8" r="1.55"/>
<circle cx="616.15" cy="251.8" r="1.55"/>
<circle cx="618.98" cy="251.8" r="1.55"/>
<circle cx="621.81" cy="251.8" r="1.55"/>
<circle cx="624.64" cy="251.8" r="1.55"/>
<circle cx="627.47" cy="251.8" r="1.55"/>
<circle cx="630.3" cy="251.8" r="1.55"/>
<circle cx="633.13" cy="251.8" r="1.55"/>
<circle cx="635.96" cy="251.8" r="1.55"/>
<circle cx="638.79" cy="251.8" r="1.55"/>
<circle cx="641.62" cy="251.8" r="1.55"/>
<circle cx="644.45" cy="251.8" r="1.55"/>
<circle cx="647.28" cy="251.8" r="1.55"/>
<circle cx="650.11" cy="251.8" r="1.55"/>
<circle cx="652.94" cy="251.8" r="1.55"/>
<circle cx="655.77" cy="251.8" r="1.55"/>
<circle cx="658.6" cy="251.8" r="1.55"/>
</g>
<path d="M413.68 251.8 L416.51 251.8 L419.34 251.8 L422.17 251.8 L425 251.8 L427.83 251.8 L430.66 251.8 L433.49 251.8 L436.32 251.8 L439.15 246.61 L441.98 224.97 L444.81 210.48 L447.64 202.04 L450.47 196.27 L453.3 194 L456.13 196.13 L458.96 200.32 L461.79 207.21 L464.62 214.28 L467.45 219.81 L470.28 225.05 L473.11 230.55 L475.94 235.03 L478.77 238 L481.6 239.74 L484.43 240.79 L487.26 240.43 L490.09 238.75 L492.92 235.7 L495.75 232.77 L498.58 229.06 L501.41 224.73 L504.24 220.54 L507.07 216.42 L509.9 211.72 L512.73 206.72 L515.56 202.84 L518.39 199.55 L521.22 197.27 L524.05 195.6 L526.88 194.63 L529.71 194.26 L532.54 194.22 L535.37 195.03 L538.2 195.86 L541.03 196.88 L543.86 198.62 L546.69 201.01 L549.52 203.01 L552.35 205.18 L555.18 208.09 L558.01 210.77 L560.84 213.37 L563.67 216.15 L566.5 219 L569.33 221.76 L572.16 224.57 L574.99 227.47 L577.82 230.33 L580.65 233.15 L583.48 235.99 L586.31 238.85 L589.14 241.59 L591.97 244.24 L594.8 246.67 L597.63 249.03 L600.46 250.71 L603.29 251.74 L606.12 251.8 L608.95 251.8 L611.78 251.8 L614.61 251.8 L617.44 251.8 L620.27 251.8 L623.1 251.8 L625.93 251.8 L628.76 251.8 L631.59 251.8 L634.42 251.8 L637.25 251.8 L640.08 251.8 L642.91 251.8 L645.74 251.8 L648.57 251.8 L651.4 251.8 L654.23 251.8 L657.06 251.8 L659.89 251.8" fill="none" stroke="#ff0000" stroke-width="1.1" stroke-linejoin="round"/>
<g fill="#fff" stroke="#ff0000" stroke-width="1">
<circle cx="413.68" cy="251.8" r="1.55"/>
<circle cx="416.51" cy="251.8" r="1.55"/>
<circle cx="419.34" cy="251.8" r="1.55"/>
<circle cx="422.17" cy="251.8" r="1.55"/>
<circle cx="425" cy="251.8" r="1.55"/>
<circle cx="427.83" cy="251.8" r="1.55"/>
<circle cx="430.66" cy="251.8" r="1.55"/>
<circle cx="433.49" cy="251.8" r="1.55"/>
<circle cx="436.32" cy="251.8" r="1.55"/>
<circle cx="439.15" cy="246.61" r="1.55"/>
<circle cx="441.98" cy="224.97" r="1.55"/>
<circle cx="444.81" cy="210.48" r="1.55"/>
<circle cx="447.64" cy="202.04" r="1.55"/>
<circle cx="450.47" cy="196.27" r="1.55"/>
<circle cx="453.3" cy="194" r="1.55"/>
<circle cx="456.13" cy="196.13" r="1.55"/>
<circle cx="458.96" cy="200.32" r="1.55"/>
<circle cx="461.79" cy="207.21" r="1.55"/>
<circle cx="464.62" cy="214.28" r="1.55"/>
<circle cx="467.45" cy="219.81" r="1.55"/>
<circle cx="470.28" cy="225.05" r="1.55"/>
<circle cx="473.11" cy="230.55" r="1.55"/>
<circle cx="475.94" cy="235.03" r="1.55"/>
<circle cx="478.77" cy="238" r="1.55"/>
<circle cx="481.6" cy="239.74" r="1.55"/>
<circle cx="484.43" cy="240.79" r="1.55"/>
<circle cx="487.26" cy="240.43" r="1.55"/>
<circle cx="490.09" cy="238.75" r="1.55"/>
<circle cx="492.92" cy="235.7" r="1.55"/>
<circle cx="495.75" cy="232.77" r="1.55"/>
<circle cx="498.58" cy="229.06" r="1.55"/>
<circle cx="501.41" cy="224.73" r="1.55"/>
<circle cx="504.24" cy="220.54" r="1.55"/>
<circle cx="507.07" cy="216.42" r="1.55"/>
<circle cx="509.9" cy="211.72" r="1.55"/>
<circle cx="512.73" cy="206.72" r="1.55"/>
<circle cx="515.56" cy="202.84" r="1.55"/>
<circle cx="518.39" cy="199.55" r="1.55"/>
<circle cx="521.22" cy="197.27" r="1.55"/>
<circle cx="524.05" cy="195.6" r="1.55"/>
<circle cx="526.88" cy="194.63" r="1.55"/>
<circle cx="529.71" cy="194.26" r="1.55"/>
<circle cx="532.54" cy="194.22" r="1.55"/>
<circle cx="535.37" cy="195.03" r="1.55"/>
<circle cx="538.2" cy="195.86" r="1.55"/>
<circle cx="541.03" cy="196.88" r="1.55"/>
<circle cx="543.86" cy="198.62" r="1.55"/>
<circle cx="546.69" cy="201.01" r="1.55"/>
<circle cx="549.52" cy="203.01" r="1.55"/>
<circle cx="552.35" cy="205.18" r="1.55"/>
<circle cx="555.18" cy="208.09" r="1.55"/>
<circle cx="558.01" cy="210.77" r="1.55"/>
<circle cx="560.84" cy="213.37" r="1.55"/>
<circle cx="563.67" cy="216.15" r="1.55"/>
<circle cx="566.5" cy="219" r="1.55"/>
<circle cx="569.33" cy="221.76" r="1.55"/>
<circle cx="572.16" cy="224.57" r="1.55"/>
<circle cx="574.99" cy="227.47" r="1.55"/>
<circle cx="577.82" cy="230.33" r="1.55"/>
<circle cx="580.65" cy="233.15" r="1.55"/>
<circle cx="583.48" cy="235.99" r="1.55"/>
<circle cx="586.31" cy="238.85" r="1.55"/>
<circle cx="589.14" cy="241.59" r="1.55"/>
<circle cx="591.97" cy="244.24" r="1.55"/>
<circle cx="594.8" cy="246.67" r="1.55"/>
<circle cx="597.63" cy="249.03" r="1.55"/>
<circle cx="600.46" cy="250.71" r="1.55"/>
<circle cx="603.29" cy="251.74" r="1.55"/>
<circle cx="606.12" cy="251.8" r="1.55"/>
<circle cx="608.95" cy="251.8" r="1.55"/>
<circle cx="611.78" cy="251.8" r="1.55"/>
<circle cx="614.61" cy="251.8" r="1.55"/>
<circle cx="617.44" cy="251.8" r="1.55"/>
<circle cx="620.27" cy="251.8" r="1.55"/>
<circle cx="623.1" cy="251.8" r="1.55"/>
<circle cx="625.93" cy="251.8" r="1.55"/>
<circle cx="628.76" cy="251.8" r="1.55"/>
<circle cx="631.59" cy="251.8" r="1.55"/>
<circle cx="634.42" cy="251.8" r="1.55"/>
<circle cx="637.25" cy="251.8" r="1.55"/>
<circle cx="640.08" cy="251.8" r="1.55"/>
<circle cx="642.91" cy="251.8" r="1.55"/>
<circle cx="645.74" cy="251.8" r="1.55"/>
<circle cx="648.57" cy="251.8" r="1.55"/>
<circle cx="651.4" cy="251.8" r="1.55"/>
<circle cx="654.23" cy="251.8" r="1.55"/>
<circle cx="657.06" cy="251.8" r="1.55"/>
<circle cx="659.89" cy="251.8" r="1.55"/>
</g>
<path d="M413.71 251.8 L416.54 251.8 L419.37 251.8 L422.2 251.8 L425.03 251.8 L427.86 251.8 L430.69 251.8 L433.52 251.8 L436.35 251.8 L439.18 251.8 L442.01 251.8 L444.84 251.8 L447.67 249.5 L450.5 239.04 L453.33 233.32 L456.16 227.39 L458.99 222.71 L461.82 219.97 L464.65 217.05 L467.48 214.33 L470.31 211.97 L473.14 210.07 L475.97 208.16 L478.8 206.65 L481.63 205.21 L484.46 204.03 L487.29 202.95 L490.12 201.86 L492.95 200.9 L495.78 200.13 L498.61 199.54 L501.44 199.02 L504.27 198.63 L507.1 198.4 L509.93 198.45 L512.76 198.59 L515.59 199.27 L518.42 200.27 L521.25 201.23 L524.08 201.87 L526.91 202.62 L529.74 203.58 L532.57 204.49 L535.4 205.71 L538.23 207.31 L541.06 209.27 L543.89 211.15 L546.72 213.12 L549.55 215.18 L552.38 217.2 L555.21 218.86 L558.04 220.31 L560.87 221.73 L563.7 223.19 L566.53 224.77 L569.36 226.42 L572.19 228.21 L575.02 230.04 L577.85 231.45 L580.68 232.56 L583.51 233.76 L586.34 235.11 L589.17 237.04 L592 239 L594.83 240.33 L597.66 241.54 L600.49 242.98 L603.32 244.32 L606.15 245.48 L608.98 247.82 L611.81 251.77 L614.64 251.8 L617.47 251.8 L620.3 251.8 L623.13 251.8 L625.96 251.8 L628.79 251.8 L631.62 251.8 L634.45 251.8 L637.28 251.8 L640.11 251.8 L642.94 251.8 L645.77 251.8 L648.6 251.8 L651.43 251.8 L654.26 251.8 L657.09 251.8 L659.92 251.8" fill="none" stroke="#008000" stroke-width="1.1" stroke-linejoin="round"/>
<g fill="#fff" stroke="#008000" stroke-width="1">
<circle cx="413.71" cy="251.8" r="1.55"/>
<circle cx="416.54" cy="251.8" r="1.55"/>
<circle cx="419.37" cy="251.8" r="1.55"/>
<circle cx="422.2" cy="251.8" r="1.55"/>
<circle cx="425.03" cy="251.8" r="1.55"/>
<circle cx="427.86" cy="251.8" r="1.55"/>
<circle cx="430.69" cy="251.8" r="1.55"/>
<circle cx="433.52" cy="251.8" r="1.55"/>
<circle cx="436.35" cy="251.8" r="1.55"/>
<circle cx="439.18" cy="251.8" r="1.55"/>
<circle cx="442.01" cy="251.8" r="1.55"/>
<circle cx="444.84" cy="251.8" r="1.55"/>
<circle cx="447.67" cy="249.5" r="1.55"/>
<circle cx="450.5" cy="239.04" r="1.55"/>
<circle cx="453.33" cy="233.32" r="1.55"/>
<circle cx="456.16" cy="227.39" r="1.55"/>
<circle cx="458.99" cy="222.71" r="1.55"/>
<circle cx="461.82" cy="219.97" r="1.55"/>
<circle cx="464.65" cy="217.05" r="1.55"/>
<circle cx="467.48" cy="214.33" r="1.55"/>
<circle cx="470.31" cy="211.97" r="1.55"/>
<circle cx="473.14" cy="210.07" r="1.55"/>
<circle cx="475.97" cy="208.16" r="1.55"/>
<circle cx="478.8" cy="206.65" r="1.55"/>
<circle cx="481.63" cy="205.21" r="1.55"/>
<circle cx="484.46" cy="204.03" r="1.55"/>
<circle cx="487.29" cy="202.95" r="1.55"/>
<circle cx="490.12" cy="201.86" r="1.55"/>
<circle cx="492.95" cy="200.9" r="1.55"/>
<circle cx="495.78" cy="200.13" r="1.55"/>
<circle cx="498.61" cy="199.54" r="1.55"/>
<circle cx="501.44" cy="199.02" r="1.55"/>
<circle cx="504.27" cy="198.63" r="1.55"/>
<circle cx="507.1" cy="198.4" r="1.55"/>
<circle cx="509.93" cy="198.45" r="1.55"/>
<circle cx="512.76" cy="198.59" r="1.55"/>
<circle cx="515.59" cy="199.27" r="1.55"/>
<circle cx="518.42" cy="200.27" r="1.55"/>
<circle cx="521.25" cy="201.23" r="1.55"/>
<circle cx="524.08" cy="201.87" r="1.55"/>
<circle cx="526.91" cy="202.62" r="1.55"/>
<circle cx="529.74" cy="203.58" r="1.55"/>
<circle cx="532.57" cy="204.49" r="1.55"/>
<circle cx="535.4" cy="205.71" r="1.55"/>
<circle cx="538.23" cy="207.31" r="1.55"/>
<circle cx="541.06" cy="209.27" r="1.55"/>
<circle cx="543.89" cy="211.15" r="1.55"/>
<circle cx="546.72" cy="213.12" r="1.55"/>
<circle cx="549.55" cy="215.18" r="1.55"/>
<circle cx="552.38" cy="217.2" r="1.55"/>
<circle cx="555.21" cy="218.86" r="1.55"/>
<circle cx="558.04" cy="220.31" r="1.55"/>
<circle cx="560.87" cy="221.73" r="1.55"/>
<circle cx="563.7" cy="223.19" r="1.55"/>
<circle cx="566.53" cy="224.77" r="1.55"/>
<circle cx="569.36" cy="226.42" r="1.55"/>
<circle cx="572.19" cy="228.21" r="1.55"/>
<circle cx="575.02" cy="230.04" r="1.55"/>
<circle cx="577.85" cy="231.45" r="1.55"/>
<circle cx="580.68" cy="232.56" r="1.55"/>
<circle cx="583.51" cy="233.76" r="1.55"/>
<circle cx="586.34" cy="235.11" r="1.55"/>
<circle cx="589.17" cy="237.04" r="1.55"/>
<circle cx="592" cy="239" r="1.55"/>
<circle cx="594.83" cy="240.33" r="1.55"/>
<circle cx="597.66" cy="241.54" r="1.55"/>
<circle cx="600.49" cy="242.98" r="1.55"/>
<circle cx="603.32" cy="244.32" r="1.55"/>
<circle cx="606.15" cy="245.48" r="1.55"/>
<circle cx="608.98" cy="247.82" r="1.55"/>
<circle cx="611.81" cy="251.77" r="1.55"/>
<circle cx="614.64" cy="251.8" r="1.55"/>
<circle cx="617.47" cy="251.8" r="1.55"/>
<circle cx="620.3" cy="251.8" r="1.55"/>
<circle cx="623.13" cy="251.8" r="1.55"/>
<circle cx="625.96" cy="251.8" r="1.55"/>
<circle cx="628.79" cy="251.8" r="1.55"/>
<circle cx="631.62" cy="251.8" r="1.55"/>
<circle cx="634.45" cy="251.8" r="1.55"/>
<circle cx="637.28" cy="251.8" r="1.55"/>
<circle cx="640.11" cy="251.8" r="1.55"/>
<circle cx="642.94" cy="251.8" r="1.55"/>
<circle cx="645.77" cy="251.8" r="1.55"/>
<circle cx="648.6" cy="251.8" r="1.55"/>
<circle cx="651.43" cy="251.8" r="1.55"/>
<circle cx="654.26" cy="251.8" r="1.55"/>
<circle cx="657.09" cy="251.8" r="1.55"/>
<circle cx="659.92" cy="251.8" r="1.55"/>
</g>
<path d="M412.88 251.8 L415.71 251.8 L418.54 251.8 L421.37 251.8 L424.2 251.8 L427.03 251.8 L429.86 251.8 L432.69 251.8 L435.52 251.8 L438.35 251.8 L441.18 251.8 L444.01 251.8 L446.84 251.8 L449.67 251.8 L452.5 251.8 L455.33 251.8 L458.16 251.8 L460.99 251.8 L463.82 251.8 L466.65 246.66 L469.48 234.85 L472.31 221.63 L475.14 212.64 L477.97 203.43 L480.8 195.54 L483.63 189.91 L486.46 185.42 L489.29 181.71 L492.12 179.21 L494.95 177.18 L497.78 175.48 L500.61 174.05 L503.44 172.97 L506.27 172.22 L509.1 171.8 L511.93 172.46 L514.76 173.71 L517.59 175.47 L520.42 177.38 L523.25 179.5 L526.08 182.42 L528.91 186.56 L531.74 190.55 L534.57 192.89 L537.4 195.52 L540.23 198.5 L543.06 201.78 L545.89 205.54 L548.72 209.46 L551.55 213.59 L554.38 217.08 L557.21 219.16 L560.04 221.26 L562.87 224 L565.7 228.23 L568.53 232.84 L571.36 237.43 L574.19 242.36 L577.02 249.26 L579.85 251.8 L582.68 251.8 L585.51 251.8 L588.34 251.8 L591.17 251.8 L594 251.8 L596.83 251.8 L599.66 251.8 L602.49 251.8 L605.32 251.8 L608.15 251.8 L610.98 251.8 L613.81 251.8 L616.64 251.8 L619.47 251.8 L622.3 251.8 L625.13 251.8 L627.96 251.8 L630.79 251.8 L633.62 251.8 L636.45 251.8 L639.28 251.8 L642.11 251.8 L644.94 251.8 L647.77 251.8 L650.6 251.8 L653.43 251.8 L656.26 251.8 L659.09 251.8" fill="none" stroke="#9400d3" stroke-width="1.1" stroke-linejoin="round"/>
<g fill="#fff" stroke="#9400d3" stroke-width="1">
<circle cx="412.88" cy="251.8" r="1.55"/>
<circle cx="415.71" cy="251.8" r="1.55"/>
<circle cx="418.54" cy="251.8" r="1.55"/>
<circle cx="421.37" cy="251.8" r="1.55"/>
<circle cx="424.2" cy="251.8" r="1.55"/>
<circle cx="427.03" cy="251.8" r="1.55"/>
<circle cx="429.86" cy="251.8" r="1.55"/>
<circle cx="432.69" cy="251.8" r="1.55"/>
<circle cx="435.52" cy="251.8" r="1.55"/>
<circle cx="438.35" cy="251.8" r="1.55"/>
<circle cx="441.18" cy="251.8" r="1.55"/>
<circle cx="444.01" cy="251.8" r="1.55"/>
<circle cx="446.84" cy="251.8" r="1.55"/>
<circle cx="449.67" cy="251.8" r="1.55"/>
<circle cx="452.5" cy="251.8" r="1.55"/>
<circle cx="455.33" cy="251.8" r="1.55"/>
<circle cx="458.16" cy="251.8" r="1.55"/>
<circle cx="460.99" cy="251.8" r="1.55"/>
<circle cx="463.82" cy="251.8" r="1.55"/>
<circle cx="466.65" cy="246.66" r="1.55"/>
<circle cx="469.48" cy="234.85" r="1.55"/>
<circle cx="472.31" cy="221.63" r="1.55"/>
<circle cx="475.14" cy="212.64" r="1.55"/>
<circle cx="477.97" cy="203.43" r="1.55"/>
<circle cx="480.8" cy="195.54" r="1.55"/>
<circle cx="483.63" cy="189.91" r="1.55"/>
<circle cx="486.46" cy="185.42" r="1.55"/>
<circle cx="489.29" cy="181.71" r="1.55"/>
<circle cx="492.12" cy="179.21" r="1.55"/>
<circle cx="494.95" cy="177.18" r="1.55"/>
<circle cx="497.78" cy="175.48" r="1.55"/>
<circle cx="500.61" cy="174.05" r="1.55"/>
<circle cx="503.44" cy="172.97" r="1.55"/>
<circle cx="506.27" cy="172.22" r="1.55"/>
<circle cx="509.1" cy="171.8" r="1.55"/>
<circle cx="511.93" cy="172.46" r="1.55"/>
<circle cx="514.76" cy="173.71" r="1.55"/>
<circle cx="517.59" cy="175.47" r="1.55"/>
<circle cx="520.42" cy="177.38" r="1.55"/>
<circle cx="523.25" cy="179.5" r="1.55"/>
<circle cx="526.08" cy="182.42" r="1.55"/>
<circle cx="528.91" cy="186.56" r="1.55"/>
<circle cx="531.74" cy="190.55" r="1.55"/>
<circle cx="534.57" cy="192.89" r="1.55"/>
<circle cx="537.4" cy="195.52" r="1.55"/>
<circle cx="540.23" cy="198.5" r="1.55"/>
<circle cx="543.06" cy="201.78" r="1.55"/>
<circle cx="545.89" cy="205.54" r="1.55"/>
<circle cx="548.72" cy="209.46" r="1.55"/>
<circle cx="551.55" cy="213.59" r="1.55"/>
<circle cx="554.38" cy="217.08" r="1.55"/>
<circle cx="557.21" cy="219.16" r="1.55"/>
<circle cx="560.04" cy="221.26" r="1.55"/>
<circle cx="562.87" cy="224" r="1.55"/>
<circle cx="565.7" cy="228.23" r="1.55"/>
<circle cx="568.53" cy="232.84" r="1.55"/>
<circle cx="571.36" cy="237.43" r="1.55"/>
<circle cx="574.19" cy="242.36" r="1.55"/>
<circle cx="577.02" cy="249.26" r="1.55"/>
<circle cx="579.85" cy="251.8" r="1.55"/>
<circle cx="582.68" cy="251.8" r="1.55"/>
<circle cx="585.51" cy="251.8" r="1.55"/>
<circle cx="588.34" cy="251.8" r="1.55"/>
<circle cx="591.17" cy="251.8" r="1.55"/>
<circle cx="594" cy="251.8" r="1.55"/>
<circle cx="596.83" cy="251.8" r="1.55"/>
<circle cx="599.66" cy="251.8" r="1.55"/>
<circle cx="602.49" cy="251.8" r="1.55"/>
<circle cx="605.32" cy="251.8" r="1.55"/>
<circle cx="608.15" cy="251.8" r="1.55"/>
<circle cx="610.98" cy="251.8" r="1.55"/>
<circle cx="613.81" cy="251.8" r="1.55"/>
<circle cx="616.64" cy="251.8" r="1.55"/>
<circle cx="619.47" cy="251.8" r="1.55"/>
<circle cx="622.3" cy="251.8" r="1.55"/>
<circle cx="625.13" cy="251.8" r="1.55"/>
<circle cx="627.96" cy="251.8" r="1.55"/>
<circle cx="630.79" cy="251.8" r="1.55"/>
<circle cx="633.62" cy="251.8" r="1.55"/>
<circle cx="636.45" cy="251.8" r="1.55"/>
<circle cx="639.28" cy="251.8" r="1.55"/>
<circle cx="642.11" cy="251.8" r="1.55"/>
<circle cx="644.94" cy="251.8" r="1.55"/>
<circle cx="647.77" cy="251.8" r="1.55"/>
<circle cx="650.6" cy="251.8" r="1.55"/>
<circle cx="653.43" cy="251.8" r="1.55"/>
<circle cx="656.26" cy="251.8" r="1.55"/>
<circle cx="659.09" cy="251.8" r="1.55"/>
</g>
<path d="M414.83 251.8 L417.66 251.8 L420.49 251.8 L423.32 251.8 L426.15 251.8 L428.98 251.8 L431.81 251.8 L434.64 251.8 L437.47 251.8 L440.3 251.8 L443.13 251.8 L445.96 251.8 L448.79 251.8 L451.62 251.8 L454.45 251.8 L457.28 251.8 L460.11 251.8 L462.94 251.8 L465.77 251.8 L468.6 251.8 L471.43 251.8 L474.26 251.8 L477.09 251.8 L479.92 251.8 L482.75 251.8 L485.58 251.8 L488.41 163.02 L491.24 112.05 L494.07 86.45 L496.9 81.4 L499.73 86.89 L502.56 102.28 L505.39 123.22 L508.22 144.04 L511.05 166.29 L513.88 191.89 L516.71 211.94 L519.54 226.44 L522.37 237.69 L525.2 245.49 L528.03 248.31 L530.86 248.89 L533.69 248.15 L536.52 246.19 L539.35 242.09 L542.18 236.74 L545.01 231.28 L547.84 226.9 L550.67 220.24 L553.5 216 L556.33 213.85 L559.16 212.46 L561.99 211.94 L564.82 212.53 L567.65 213.34 L570.48 214.48 L573.31 216.13 L576.14 218.66 L578.97 221.34 L581.8 224.68 L584.63 228.16 L587.46 231.08 L590.29 234.79 L593.12 239.94 L595.95 244.57 L598.78 248.44 L601.61 251.71 L604.44 251.8 L607.27 251.8 L610.1 251.8 L612.93 251.8 L615.76 251.8 L618.59 251.8 L621.42 251.8 L624.25 251.8 L627.08 251.8 L629.91 251.8 L632.74 251.8 L635.57 251.8 L638.4 251.8 L641.23 251.8 L644.06 251.8 L646.89 251.8 L649.72 251.8 L652.55 251.8 L655.38 251.8 L658.21 251.8" fill="none" stroke="#d2691e" stroke-width="1.1" stroke-linejoin="round"/>
<g fill="#fff" stroke="#d2691e" stroke-width="1">
<circle cx="414.83" cy="251.8" r="1.55"/>
<circle cx="417.66" cy="251.8" r="1.55"/>
<circle cx="420.49" cy="251.8" r="1.55"/>
<circle cx="423.32" cy="251.8" r="1.55"/>
<circle cx="426.15" cy="251.8" r="1.55"/>
<circle cx="428.98" cy="251.8" r="1.55"/>
<circle cx="431.81" cy="251.8" r="1.55"/>
<circle cx="434.64" cy="251.8" r="1.55"/>
<circle cx="437.47" cy="251.8" r="1.55"/>
<circle cx="440.3" cy="251.8" r="1.55"/>
<circle cx="443.13" cy="251.8" r="1.55"/>
<circle cx="445.96" cy="251.8" r="1.55"/>
<circle cx="448.79" cy="251.8" r="1.55"/>
<circle cx="451.62" cy="251.8" r="1.55"/>
<circle cx="454.45" cy="251.8" r="1.55"/>
<circle cx="457.28" cy="251.8" r="1.55"/>
<circle cx="460.11" cy="251.8" r="1.55"/>
<circle cx="462.94" cy="251.8" r="1.55"/>
<circle cx="465.77" cy="251.8" r="1.55"/>
<circle cx="468.6" cy="251.8" r="1.55"/>
<circle cx="471.43" cy="251.8" r="1.55"/>
<circle cx="474.26" cy="251.8" r="1.55"/>
<circle cx="477.09" cy="251.8" r="1.55"/>
<circle cx="479.92" cy="251.8" r="1.55"/>
<circle cx="482.75" cy="251.8" r="1.55"/>
<circle cx="485.58" cy="251.8" r="1.55"/>
<circle cx="488.41" cy="163.02" r="1.55"/>
<circle cx="491.24" cy="112.05" r="1.55"/>
<circle cx="494.07" cy="86.45" r="1.55"/>
<circle cx="496.9" cy="81.4" r="1.55"/>
<circle cx="499.73" cy="86.89" r="1.55"/>
<circle cx="502.56" cy="102.28" r="1.55"/>
<circle cx="505.39" cy="123.22" r="1.55"/>
<circle cx="508.22" cy="144.04" r="1.55"/>
<circle cx="511.05" cy="166.29" r="1.55"/>
<circle cx="513.88" cy="191.89" r="1.55"/>
<circle cx="516.71" cy="211.94" r="1.55"/>
<circle cx="519.54" cy="226.44" r="1.55"/>
<circle cx="522.37" cy="237.69" r="1.55"/>
<circle cx="525.2" cy="245.49" r="1.55"/>
<circle cx="528.03" cy="248.31" r="1.55"/>
<circle cx="530.86" cy="248.89" r="1.55"/>
<circle cx="533.69" cy="248.15" r="1.55"/>
<circle cx="536.52" cy="246.19" r="1.55"/>
<circle cx="539.35" cy="242.09" r="1.55"/>
<circle cx="542.18" cy="236.74" r="1.55"/>
<circle cx="545.01" cy="231.28" r="1.55"/>
<circle cx="547.84" cy="226.9" r="1.55"/>
<circle cx="550.67" cy="220.24" r="1.55"/>
<circle cx="553.5" cy="216" r="1.55"/>
<circle cx="556.33" cy="213.85" r="1.55"/>
<circle cx="559.16" cy="212.46" r="1.55"/>
<circle cx="561.99" cy="211.94" r="1.55"/>
<circle cx="564.82" cy="212.53" r="1.55"/>
<circle cx="567.65" cy="213.34" r="1.55"/>
<circle cx="570.48" cy="214.48" r="1.55"/>
<circle cx="573.31" cy="216.13" r="1.55"/>
<circle cx="576.14" cy="218.66" r="1.55"/>
<circle cx="578.97" cy="221.34" r="1.55"/>
<circle cx="581.8" cy="224.68" r="1.55"/>
<circle cx="584.63" cy="228.16" r="1.55"/>
<circle cx="587.46" cy="231.08" r="1.55"/>
<circle cx="590.29" cy="234.79" r="1.55"/>
<circle cx="593.12" cy="239.94" r="1.55"/>
<circle cx="595.95" cy="244.57" r="1.55"/>
<circle cx="598.78" cy="248.44" r="1.55"/>
<circle cx="601.61" cy="251.71" r="1.55"/>
<circle cx="604.44" cy="251.8" r="1.55"/>
<circle cx="607.27" cy="251.8" r="1.55"/>
<circle cx="610.1" cy="251.8" r="1.55"/>
<circle cx="612.93" cy="251.8" r="1.55"/>
<circle cx="615.76" cy="251.8" r="1.55"/>
<circle cx="618.59" cy="251.8" r="1.55"/>
<circle cx="621.42" cy="251.8" r="1.55"/>
<circle cx="624.25" cy="251.8" r="1.55"/>
<circle cx="627.08" cy="251.8" r="1.55"/>
<circle cx="629.91" cy="251.8" r="1.55"/>
<circle cx="632.74" cy="251.8" r="1.55"/>
<circle cx="635.57" cy="251.8" r="1.55"/>
<circle cx="638.4" cy="251.8" r="1.55"/>
<circle cx="641.23" cy="251.8" r="1.55"/>
<circle cx="644.06" cy="251.8" r="1.55"/>
<circle cx="646.89" cy="251.8" r="1.55"/>
<circle cx="649.72" cy="251.8" r="1.55"/>
<circle cx="652.55" cy="251.8" r="1.55"/>
<circle cx="655.38" cy="251.8" r="1.55"/>
<circle cx="658.21" cy="251.8" r="1.55"/>
</g>
<path d="M414.74 251.8 L417.57 251.8 L420.4 251.8 L423.23 251.8 L426.06 251.8 L428.89 251.8 L431.72 251.8 L434.55 251.8 L437.38 251.8 L440.21 251.8 L443.04 251.8 L445.87 251.8 L448.7 251.8 L451.53 251.8 L454.36 251.8 L457.19 251.8 L460.02 251.8 L462.85 251.8 L465.68 251.8 L468.51 251.8 L471.34 251.8 L474.17 251.8 L477 251.8 L479.83 251.8 L482.66 251.8 L485.49 251.8 L488.32 251.8 L491.15 224.75 L493.98 152.27 L496.81 106.78 L499.64 51.49 L502.47 35.21 L505.3 33.3 L508.13 46.69 L510.96 75.16 L513.79 104.73 L516.62 143.39 L519.45 198.5 L522.28 239.74 L525.11 251.8 L527.94 251.8 L530.77 251.8 L533.6 251.8 L536.43 251.8 L539.26 251.8 L542.09 251.8 L544.92 251.8 L547.75 251.8 L550.58 251.8 L553.41 251.8 L556.24 251.8 L559.07 251.8 L561.9 251.8 L564.73 251.8 L567.56 250.21 L570.39 242.46 L573.22 226.56 L576.05 214.87 L578.88 209.24 L581.71 205.99 L584.54 205 L587.37 207.02 L590.2 212.61 L593.03 222.1 L595.86 235.78 L598.69 251.8 L601.52 251.8 L604.35 251.8 L607.18 251.8 L610.01 251.8 L612.84 251.8 L615.67 251.8 L618.5 251.8 L621.33 251.8 L624.16 251.8 L626.99 251.8 L629.82 251.8 L632.65 251.8 L635.48 251.8 L638.31 251.8 L641.14 251.8 L643.97 251.8 L646.8 251.8 L649.63 251.8 L652.46 251.8 L655.29 251.8 L658.12 251.8" fill="none" stroke="#000000" stroke-width="1.1" stroke-linejoin="round"/>
<g fill="#000000">
<circle cx="414.74" cy="251.8" r="1.7"/>
<circle cx="417.57" cy="251.8" r="1.7"/>
<circle cx="420.4" cy="251.8" r="1.7"/>
<circle cx="423.23" cy="251.8" r="1.7"/>
<circle cx="426.06" cy="251.8" r="1.7"/>
<circle cx="428.89" cy="251.8" r="1.7"/>
<circle cx="431.72" cy="251.8" r="1.7"/>
<circle cx="434.55" cy="251.8" r="1.7"/>
<circle cx="437.38" cy="251.8" r="1.7"/>
<circle cx="440.21" cy="251.8" r="1.7"/>
<circle cx="443.04" cy="251.8" r="1.7"/>
<circle cx="445.87" cy="251.8" r="1.7"/>
<circle cx="448.7" cy="251.8" r="1.7"/>
<circle cx="451.53" cy="251.8" r="1.7"/>
<circle cx="454.36" cy="251.8" r="1.7"/>
<circle cx="457.19" cy="251.8" r="1.7"/>
<circle cx="460.02" cy="251.8" r="1.7"/>
<circle cx="462.85" cy="251.8" r="1.7"/>
<circle cx="465.68" cy="251.8" r="1.7"/>
<circle cx="468.51" cy="251.8" r="1.7"/>
<circle cx="471.34" cy="251.8" r="1.7"/>
<circle cx="474.17" cy="251.8" r="1.7"/>
<circle cx="477" cy="251.8" r="1.7"/>
<circle cx="479.83" cy="251.8" r="1.7"/>
<circle cx="482.66" cy="251.8" r="1.7"/>
<circle cx="485.49" cy="251.8" r="1.7"/>
<circle cx="488.32" cy="251.8" r="1.7"/>
<circle cx="491.15" cy="224.75" r="1.7"/>
<circle cx="493.98" cy="152.27" r="1.7"/>
<circle cx="496.81" cy="106.78" r="1.7"/>
<circle cx="499.64" cy="51.49" r="1.7"/>
<circle cx="502.47" cy="35.21" r="1.7"/>
<circle cx="505.3" cy="33.3" r="1.7"/>
<circle cx="508.13" cy="46.69" r="1.7"/>
<circle cx="510.96" cy="75.16" r="1.7"/>
<circle cx="513.79" cy="104.73" r="1.7"/>
<circle cx="516.62" cy="143.39" r="1.7"/>
<circle cx="519.45" cy="198.5" r="1.7"/>
<circle cx="522.28" cy="239.74" r="1.7"/>
<circle cx="525.11" cy="251.8" r="1.7"/>
<circle cx="527.94" cy="251.8" r="1.7"/>
<circle cx="530.77" cy="251.8" r="1.7"/>
<circle cx="533.6" cy="251.8" r="1.7"/>
<circle cx="536.43" cy="251.8" r="1.7"/>
<circle cx="539.26" cy="251.8" r="1.7"/>
<circle cx="542.09" cy="251.8" r="1.7"/>
<circle cx="544.92" cy="251.8" r="1.7"/>
<circle cx="547.75" cy="251.8" r="1.7"/>
<circle cx="550.58" cy="251.8" r="1.7"/>
<circle cx="553.41" cy="251.8" r="1.7"/>
<circle cx="556.24" cy="251.8" r="1.7"/>
<circle cx="559.07" cy="251.8" r="1.7"/>
<circle cx="561.9" cy="251.8" r="1.7"/>
<circle cx="564.73" cy="251.8" r="1.7"/>
<circle cx="567.56" cy="250.21" r="1.7"/>
<circle cx="570.39" cy="242.46" r="1.7"/>
<circle cx="573.22" cy="226.56" r="1.7"/>
<circle cx="576.05" cy="214.87" r="1.7"/>
<circle cx="578.88" cy="209.24" r="1.7"/>
<circle cx="581.71" cy="205.99" r="1.7"/>
<circle cx="584.54" cy="205" r="1.7"/>
<circle cx="587.37" cy="207.02" r="1.7"/>
<circle cx="590.2" cy="212.61" r="1.7"/>
<circle cx="593.03" cy="222.1" r="1.7"/>
<circle cx="595.86" cy="235.78" r="1.7"/>
<circle cx="598.69" cy="251.8" r="1.7"/>
<circle cx="601.52" cy="251.8" r="1.7"/>
<circle cx="604.35" cy="251.8" r="1.7"/>
<circle cx="607.18" cy="251.8" r="1.7"/>
<circle cx="610.01" cy="251.8" r="1.7"/>
<circle cx="612.84" cy="251.8" r="1.7"/>
<circle cx="615.67" cy="251.8" r="1.7"/>
<circle cx="618.5" cy="251.8" r="1.7"/>
<circle cx="621.33" cy="251.8" r="1.7"/>
<circle cx="624.16" cy="251.8" r="1.7"/>
<circle cx="626.99" cy="251.8" r="1.7"/>
<circle cx="629.82" cy="251.8" r="1.7"/>
<circle cx="632.65" cy="251.8" r="1.7"/>
<circle cx="635.48" cy="251.8" r="1.7"/>
<circle cx="638.31" cy="251.8" r="1.7"/>
<circle cx="641.14" cy="251.8" r="1.7"/>
<circle cx="643.97" cy="251.8" r="1.7"/>
<circle cx="646.8" cy="251.8" r="1.7"/>
<circle cx="649.63" cy="251.8" r="1.7"/>
<circle cx="652.46" cy="251.8" r="1.7"/>
<circle cx="655.29" cy="251.8" r="1.7"/>
<circle cx="658.12" cy="251.8" r="1.7"/>
</g>
<path d="M414.51 251.8 L417.34 251.8 L420.17 251.8 L423 251.8 L425.83 251.8 L428.66 251.8 L431.49 251.8 L434.32 251.8 L437.15 251.8 L439.98 251.8 L442.81 251.8 L445.64 251.8 L448.47 251.8 L451.3 251.8 L454.13 251.8 L456.96 251.8 L459.79 251.8 L462.62 251.8 L465.45 251.8 L468.28 251.8 L471.11 251.8 L473.94 251.8 L476.77 251.8 L479.6 251.8 L482.43 251.8 L485.26 251.8 L488.09 251.8 L490.92 242.36 L493.75 170.8 L496.58 119.21 L499.41 88.33 L502.24 68.42 L505.07 48.85 L507.9 41.3 L510.73 46.26 L513.56 62.21 L516.39 91.58 L519.22 129.82 L522.05 179.8 L524.88 251.38 L527.71 251.8 L530.54 251.8 L533.37 251.8 L536.2 251.8 L539.03 251.8 L541.86 251.8 L544.69 251.8 L547.52 251.8 L550.35 251.8 L553.18 251.8 L556.01 251.8 L558.84 251.8 L561.67 251.8 L564.5 251.8 L567.33 251.8 L570.16 251.8 L572.99 251.8 L575.82 251.8 L578.65 251.8 L581.48 251.8 L584.31 251.8 L587.14 251.8 L589.97 251.8 L592.8 251.8 L595.63 251.8 L598.46 251.8 L601.29 251.8 L604.12 251.8 L606.95 251.8 L609.78 251.8 L612.61 251.8 L615.44 243.11 L618.27 237.05 L621.1 233.05 L623.93 230.25 L626.76 229 L629.59 228.91 L632.42 230.17 L635.25 232.27 L638.08 235.24 L640.91 238.98 L643.74 242.75 L646.57 246.47 L649.4 251.8 L652.23 251.8 L655.06 251.8 L657.89 251.8" fill="none" stroke="#0000dd" stroke-width="1.1" stroke-linejoin="round"/>
<g fill="#0000dd">
<circle cx="414.51" cy="251.8" r="1.7"/>
<circle cx="417.34" cy="251.8" r="1.7"/>
<circle cx="420.17" cy="251.8" r="1.7"/>
<circle cx="423" cy="251.8" r="1.7"/>
<circle cx="425.83" cy="251.8" r="1.7"/>
<circle cx="428.66" cy="251.8" r="1.7"/>
<circle cx="431.49" cy="251.8" r="1.7"/>
<circle cx="434.32" cy="251.8" r="1.7"/>
<circle cx="437.15" cy="251.8" r="1.7"/>
<circle cx="439.98" cy="251.8" r="1.7"/>
<circle cx="442.81" cy="251.8" r="1.7"/>
<circle cx="445.64" cy="251.8" r="1.7"/>
<circle cx="448.47" cy="251.8" r="1.7"/>
<circle cx="451.3" cy="251.8" r="1.7"/>
<circle cx="454.13" cy="251.8" r="1.7"/>
<circle cx="456.96" cy="251.8" r="1.7"/>
<circle cx="459.79" cy="251.8" r="1.7"/>
<circle cx="462.62" cy="251.8" r="1.7"/>
<circle cx="465.45" cy="251.8" r="1.7"/>
<circle cx="468.28" cy="251.8" r="1.7"/>
<circle cx="471.11" cy="251.8" r="1.7"/>
<circle cx="473.94" cy="251.8" r="1.7"/>
<circle cx="476.77" cy="251.8" r="1.7"/>
<circle cx="479.6" cy="251.8" r="1.7"/>
<circle cx="482.43" cy="251.8" r="1.7"/>
<circle cx="485.26" cy="251.8" r="1.7"/>
<circle cx="488.09" cy="251.8" r="1.7"/>
<circle cx="490.92" cy="242.36" r="1.7"/>
<circle cx="493.75" cy="170.8" r="1.7"/>
<circle cx="496.58" cy="119.21" r="1.7"/>
<circle cx="499.41" cy="88.33" r="1.7"/>
<circle cx="502.24" cy="68.42" r="1.7"/>
<circle cx="505.07" cy="48.85" r="1.7"/>
<circle cx="507.9" cy="41.3" r="1.7"/>
<circle cx="510.73" cy="46.26" r="1.7"/>
<circle cx="513.56" cy="62.21" r="1.7"/>
<circle cx="516.39" cy="91.58" r="1.7"/>
<circle cx="519.22" cy="129.82" r="1.7"/>
<circle cx="522.05" cy="179.8" r="1.7"/>
<circle cx="524.88" cy="251.38" r="1.7"/>
<circle cx="527.71" cy="251.8" r="1.7"/>
<circle cx="530.54" cy="251.8" r="1.7"/>
<circle cx="533.37" cy="251.8" r="1.7"/>
<circle cx="536.2" cy="251.8" r="1.7"/>
<circle cx="539.03" cy="251.8" r="1.7"/>
<circle cx="541.86" cy="251.8" r="1.7"/>
<circle cx="544.69" cy="251.8" r="1.7"/>
<circle cx="547.52" cy="251.8" r="1.7"/>
<circle cx="550.35" cy="251.8" r="1.7"/>
<circle cx="553.18" cy="251.8" r="1.7"/>
<circle cx="556.01" cy="251.8" r="1.7"/>
<circle cx="558.84" cy="251.8" r="1.7"/>
<circle cx="561.67" cy="251.8" r="1.7"/>
<circle cx="564.5" cy="251.8" r="1.7"/>
<circle cx="567.33" cy="251.8" r="1.7"/>
<circle cx="570.16" cy="251.8" r="1.7"/>
<circle cx="572.99" cy="251.8" r="1.7"/>
<circle cx="575.82" cy="251.8" r="1.7"/>
<circle cx="578.65" cy="251.8" r="1.7"/>
<circle cx="581.48" cy="251.8" r="1.7"/>
<circle cx="584.31" cy="251.8" r="1.7"/>
<circle cx="587.14" cy="251.8" r="1.7"/>
<circle cx="589.97" cy="251.8" r="1.7"/>
<circle cx="592.8" cy="251.8" r="1.7"/>
<circle cx="595.63" cy="251.8" r="1.7"/>
<circle cx="598.46" cy="251.8" r="1.7"/>
<circle cx="601.29" cy="251.8" r="1.7"/>
<circle cx="604.12" cy="251.8" r="1.7"/>
<circle cx="606.95" cy="251.8" r="1.7"/>
<circle cx="609.78" cy="251.8" r="1.7"/>
<circle cx="612.61" cy="251.8" r="1.7"/>
<circle cx="615.44" cy="243.11" r="1.7"/>
<circle cx="618.27" cy="237.05" r="1.7"/>
<circle cx="621.1" cy="233.05" r="1.7"/>
<circle cx="623.93" cy="230.25" r="1.7"/>
<circle cx="626.76" cy="229" r="1.7"/>
<circle cx="629.59" cy="228.91" r="1.7"/>
<circle cx="632.42" cy="230.17" r="1.7"/>
<circle cx="635.25" cy="232.27" r="1.7"/>
<circle cx="638.08" cy="235.24" r="1.7"/>
<circle cx="640.91" cy="238.98" r="1.7"/>
<circle cx="643.74" cy="242.75" r="1.7"/>
<circle cx="646.57" cy="246.47" r="1.7"/>
<circle cx="649.4" cy="251.8" r="1.7"/>
<circle cx="652.23" cy="251.8" r="1.7"/>
<circle cx="655.06" cy="251.8" r="1.7"/>
<circle cx="657.89" cy="251.8" r="1.7"/>
</g>
<path d="M413.47 251.8 L416.3 251.8 L419.13 251.8 L421.96 251.8 L424.79 251.8 L427.62 251.8 L430.45 251.8 L433.28 251.8 L436.11 251.8 L438.94 251.8 L441.77 251.8 L444.6 251.8 L447.43 251.8 L450.26 251.8 L453.09 251.8 L455.92 251.8 L458.75 251.8 L461.58 251.8 L464.41 251.8 L467.24 251.8 L470.07 251.8 L472.9 251.8 L475.73 251.8 L478.56 251.8 L481.39 251.8 L484.22 242.4 L487.05 198.58 L489.88 160.23 L492.71 125.95 L495.54 106.89 L498.37 96.15 L501.2 94.6 L504.03 98.37 L506.86 105.97 L509.69 115.95 L512.52 132.77 L515.35 153.83 L518.18 168.54 L521.01 186.35 L523.84 202.56 L526.67 216.35 L529.5 227.04 L532.33 236.42 L535.16 241.59 L537.99 244.33 L540.82 244.5 L543.65 244.24 L546.48 242.6 L549.31 240.66 L552.14 237.99 L554.97 234.64 L557.8 231.61 L560.63 230.45 L563.46 230.25 L566.29 230.92 L569.12 232.37 L571.95 235.17 L574.78 238.6 L577.61 242.81 L580.44 247.72 L583.27 251.8 L586.1 251.8 L588.93 251.8 L591.76 251.8 L594.59 251.8 L597.42 251.8 L600.25 251.8 L603.08 251.8 L605.91 251.8 L608.74 251.8 L611.57 251.8 L614.4 251.8 L617.23 251.8 L620.06 251.8 L622.89 251.8 L625.72 251.8 L628.55 251.8 L631.38 251.8 L634.21 251.8 L637.04 251.8 L639.87 251.8 L642.7 251.8 L645.53 251.8 L648.36 251.8 L651.19 251.8 L654.02 251.8 L656.85 251.8 L659.68 251.8" fill="none" stroke="#ff0000" stroke-width="1.1" stroke-linejoin="round"/>
<g fill="#ff0000">
<circle cx="413.47" cy="251.8" r="1.7"/>
<circle cx="416.3" cy="251.8" r="1.7"/>
<circle cx="419.13" cy="251.8" r="1.7"/>
<circle cx="421.96" cy="251.8" r="1.7"/>
<circle cx="424.79" cy="251.8" r="1.7"/>
<circle cx="427.62" cy="251.8" r="1.7"/>
<circle cx="430.45" cy="251.8" r="1.7"/>
<circle cx="433.28" cy="251.8" r="1.7"/>
<circle cx="436.11" cy="251.8" r="1.7"/>
<circle cx="438.94" cy="251.8" r="1.7"/>
<circle cx="441.77" cy="251.8" r="1.7"/>
<circle cx="444.6" cy="251.8" r="1.7"/>
<circle cx="447.43" cy="251.8" r="1.7"/>
<circle cx="450.26" cy="251.8" r="1.7"/>
<circle cx="453.09" cy="251.8" r="1.7"/>
<circle cx="455.92" cy="251.8" r="1.7"/>
<circle cx="458.75" cy="251.8" r="1.7"/>
<circle cx="461.58" cy="251.8" r="1.7"/>
<circle cx="464.41" cy="251.8" r="1.7"/>
<circle cx="467.24" cy="251.8" r="1.7"/>
<circle cx="470.07" cy="251.8" r="1.7"/>
<circle cx="472.9" cy="251.8" r="1.7"/>
<circle cx="475.73" cy="251.8" r="1.7"/>
<circle cx="478.56" cy="251.8" r="1.7"/>
<circle cx="481.39" cy="251.8" r="1.7"/>
<circle cx="484.22" cy="242.4" r="1.7"/>
<circle cx="487.05" cy="198.58" r="1.7"/>
<circle cx="489.88" cy="160.23" r="1.7"/>
<circle cx="492.71" cy="125.95" r="1.7"/>
<circle cx="495.54" cy="106.89" r="1.7"/>
<circle cx="498.37" cy="96.15" r="1.7"/>
<circle cx="501.2" cy="94.6" r="1.7"/>
<circle cx="504.03" cy="98.37" r="1.7"/>
<circle cx="506.86" cy="105.97" r="1.7"/>
<circle cx="509.69" cy="115.95" r="1.7"/>
<circle cx="512.52" cy="132.77" r="1.7"/>
<circle cx="515.35" cy="153.83" r="1.7"/>
<circle cx="518.18" cy="168.54" r="1.7"/>
<circle cx="521.01" cy="186.35" r="1.7"/>
<circle cx="523.84" cy="202.56" r="1.7"/>
<circle cx="526.67" cy="216.35" r="1.7"/>
<circle cx="529.5" cy="227.04" r="1.7"/>
<circle cx="532.33" cy="236.42" r="1.7"/>
<circle cx="535.16" cy="241.59" r="1.7"/>
<circle cx="537.99" cy="244.33" r="1.7"/>
<circle cx="540.82" cy="244.5" r="1.7"/>
<circle cx="543.65" cy="244.24" r="1.7"/>
<circle cx="546.48" cy="242.6" r="1.7"/>
<circle cx="549.31" cy="240.66" r="1.7"/>
<circle cx="552.14" cy="237.99" r="1.7"/>
<circle cx="554.97" cy="234.64" r="1.7"/>
<circle cx="557.8" cy="231.61" r="1.7"/>
<circle cx="560.63" cy="230.45" r="1.7"/>
<circle cx="563.46" cy="230.25" r="1.7"/>
<circle cx="566.29" cy="230.92" r="1.7"/>
<circle cx="569.12" cy="232.37" r="1.7"/>
<circle cx="571.95" cy="235.17" r="1.7"/>
<circle cx="574.78" cy="238.6" r="1.7"/>
<circle cx="577.61" cy="242.81" r="1.7"/>
<circle cx="580.44" cy="247.72" r="1.7"/>
<circle cx="583.27" cy="251.8" r="1.7"/>
<circle cx="586.1" cy="251.8" r="1.7"/>
<circle cx="588.93" cy="251.8" r="1.7"/>
<circle cx="591.76" cy="251.8" r="1.7"/>
<circle cx="594.59" cy="251.8" r="1.7"/>
<circle cx="597.42" cy="251.8" r="1.7"/>
<circle cx="600.25" cy="251.8" r="1.7"/>
<circle cx="603.08" cy="251.8" r="1.7"/>
<circle cx="605.91" cy="251.8" r="1.7"/>
<circle cx="608.74" cy="251.8" r="1.7"/>
<circle cx="611.57" cy="251.8" r="1.7"/>
<circle cx="614.4" cy="251.8" r="1.7"/>
<circle cx="617.23" cy="251.8" r="1.7"/>
<circle cx="620.06" cy="251.8" r="1.7"/>
<circle cx="622.89" cy="251.8" r="1.7"/>
<circle cx="625.72" cy="251.8" r="1.7"/>
<circle cx="628.55" cy="251.8" r="1.7"/>
<circle cx="631.38" cy="251.8" r="1.7"/>
<circle cx="634.21" cy="251.8" r="1.7"/>
<circle cx="637.04" cy="251.8" r="1.7"/>
<circle cx="639.87" cy="251.8" r="1.7"/>
<circle cx="642.7" cy="251.8" r="1.7"/>
<circle cx="645.53" cy="251.8" r="1.7"/>
<circle cx="648.36" cy="251.8" r="1.7"/>
<circle cx="651.19" cy="251.8" r="1.7"/>
<circle cx="654.02" cy="251.8" r="1.7"/>
<circle cx="656.85" cy="251.8" r="1.7"/>
<circle cx="659.68" cy="251.8" r="1.7"/>
</g>
<path d="M414.96 251.8 L417.79 251.8 L420.62 251.8 L423.45 251.8 L426.28 251.8 L429.11 251.8 L431.94 251.8 L434.77 251.8 L437.6 251.8 L440.43 251.8 L443.26 251.8 L446.09 251.8 L448.92 251.8 L451.75 251.8 L454.58 251.8 L457.41 251.8 L460.24 251.8 L463.07 251.8 L465.9 251.8 L468.73 251.8 L471.56 251.8 L474.39 251.8 L477.22 251.8 L480.05 221.17 L482.88 171.34 L485.71 153.54 L488.54 140.2 L491.37 135.19 L494.2 134.5 L497.03 138.32 L499.86 145.98 L502.69 155.41 L505.52 166.18 L508.35 177.72 L511.18 187.06 L514.01 195.87 L516.84 201.68 L519.67 205.19 L522.5 207.78 L525.33 208.79 L528.16 208.59 L530.99 207.32 L533.82 205.62 L536.65 203.92 L539.48 202.24 L542.31 201.41 L545.14 201.35 L547.97 203.45 L550.8 207.19 L553.63 213.9 L556.46 222.15 L559.29 228.25 L562.12 236.8 L564.95 248.87 L567.78 251.8 L570.61 251.8 L573.44 251.8 L576.27 251.8 L579.1 251.8 L581.93 251.8 L584.76 251.8 L587.59 251.8 L590.42 251.8 L593.25 251.8 L596.08 251.8 L598.91 251.8 L601.74 251.8 L604.57 251.8 L607.4 251.8 L610.23 251.8 L613.06 251.8 L615.89 251.8 L618.72 251.8 L621.55 251.8 L624.38 251.8 L627.21 251.8 L630.04 251.8 L632.87 251.8 L635.7 251.8 L638.53 251.8 L641.36 251.8 L644.19 251.8 L647.02 251.8 L649.85 251.8 L652.68 251.8 L655.51 251.8 L658.34 251.8" fill="none" stroke="#008000" stroke-width="1.1" stroke-linejoin="round"/>
<g fill="#008000">
<circle cx="414.96" cy="251.8" r="1.7"/>
<circle cx="417.79" cy="251.8" r="1.7"/>
<circle cx="420.62" cy="251.8" r="1.7"/>
<circle cx="423.45" cy="251.8" r="1.7"/>
<circle cx="426.28" cy="251.8" r="1.7"/>
<circle cx="429.11" cy="251.8" r="1.7"/>
<circle cx="431.94" cy="251.8" r="1.7"/>
<circle cx="434.77" cy="251.8" r="1.7"/>
<circle cx="437.6" cy="251.8" r="1.7"/>
<circle cx="440.43" cy="251.8" r="1.7"/>
<circle cx="443.26" cy="251.8" r="1.7"/>
<circle cx="446.09" cy="251.8" r="1.7"/>
<circle cx="448.92" cy="251.8" r="1.7"/>
<circle cx="451.75" cy="251.8" r="1.7"/>
<circle cx="454.58" cy="251.8" r="1.7"/>
<circle cx="457.41" cy="251.8" r="1.7"/>
<circle cx="460.24" cy="251.8" r="1.7"/>
<circle cx="463.07" cy="251.8" r="1.7"/>
<circle cx="465.9" cy="251.8" r="1.7"/>
<circle cx="468.73" cy="251.8" r="1.7"/>
<circle cx="471.56" cy="251.8" r="1.7"/>
<circle cx="474.39" cy="251.8" r="1.7"/>
<circle cx="477.22" cy="251.8" r="1.7"/>
<circle cx="480.05" cy="221.17" r="1.7"/>
<circle cx="482.88" cy="171.34" r="1.7"/>
<circle cx="485.71" cy="153.54" r="1.7"/>
<circle cx="488.54" cy="140.2" r="1.7"/>
<circle cx="491.37" cy="135.19" r="1.7"/>
<circle cx="494.2" cy="134.5" r="1.7"/>
<circle cx="497.03" cy="138.32" r="1.7"/>
<circle cx="499.86" cy="145.98" r="1.7"/>
<circle cx="502.69" cy="155.41" r="1.7"/>
<circle cx="505.52" cy="166.18" r="1.7"/>
<circle cx="508.35" cy="177.72" r="1.7"/>
<circle cx="511.18" cy="187.06" r="1.7"/>
<circle cx="514.01" cy="195.87" r="1.7"/>
<circle cx="516.84" cy="201.68" r="1.7"/>
<circle cx="519.67" cy="205.19" r="1.7"/>
<circle cx="522.5" cy="207.78" r="1.7"/>
<circle cx="525.33" cy="208.79" r="1.7"/>
<circle cx="528.16" cy="208.59" r="1.7"/>
<circle cx="530.99" cy="207.32" r="1.7"/>
<circle cx="533.82" cy="205.62" r="1.7"/>
<circle cx="536.65" cy="203.92" r="1.7"/>
<circle cx="539.48" cy="202.24" r="1.7"/>
<circle cx="542.31" cy="201.41" r="1.7"/>
<circle cx="545.14" cy="201.35" r="1.7"/>
<circle cx="547.97" cy="203.45" r="1.7"/>
<circle cx="550.8" cy="207.19" r="1.7"/>
<circle cx="553.63" cy="213.9" r="1.7"/>
<circle cx="556.46" cy="222.15" r="1.7"/>
<circle cx="559.29" cy="228.25" r="1.7"/>
<circle cx="562.12" cy="236.8" r="1.7"/>
<circle cx="564.95" cy="248.87" r="1.7"/>
<circle cx="567.78" cy="251.8" r="1.7"/>
<circle cx="570.61" cy="251.8" r="1.7"/>
<circle cx="573.44" cy="251.8" r="1.7"/>
<circle cx="576.27" cy="251.8" r="1.7"/>
<circle cx="579.1" cy="251.8" r="1.7"/>
<circle cx="581.93" cy="251.8" r="1.7"/>
<circle cx="584.76" cy="251.8" r="1.7"/>
<circle cx="587.59" cy="251.8" r="1.7"/>
<circle cx="590.42" cy="251.8" r="1.7"/>
<circle cx="593.25" cy="251.8" r="1.7"/>
<circle cx="596.08" cy="251.8" r="1.7"/>
<circle cx="598.91" cy="251.8" r="1.7"/>
<circle cx="601.74" cy="251.8" r="1.7"/>
<circle cx="604.57" cy="251.8" r="1.7"/>
<circle cx="607.4" cy="251.8" r="1.7"/>
<circle cx="610.23" cy="251.8" r="1.7"/>
<circle cx="613.06" cy="251.8" r="1.7"/>
<circle cx="615.89" cy="251.8" r="1.7"/>
<circle cx="618.72" cy="251.8" r="1.7"/>
<circle cx="621.55" cy="251.8" r="1.7"/>
<circle cx="624.38" cy="251.8" r="1.7"/>
<circle cx="627.21" cy="251.8" r="1.7"/>
<circle cx="630.04" cy="251.8" r="1.7"/>
<circle cx="632.87" cy="251.8" r="1.7"/>
<circle cx="635.7" cy="251.8" r="1.7"/>
<circle cx="638.53" cy="251.8" r="1.7"/>
<circle cx="641.36" cy="251.8" r="1.7"/>
<circle cx="644.19" cy="251.8" r="1.7"/>
<circle cx="647.02" cy="251.8" r="1.7"/>
<circle cx="649.85" cy="251.8" r="1.7"/>
<circle cx="652.68" cy="251.8" r="1.7"/>
<circle cx="655.51" cy="251.8" r="1.7"/>
<circle cx="658.34" cy="251.8" r="1.7"/>
</g>
<path d="M414.4 251.8 L417.23 251.8 L420.06 251.8 L422.89 251.8 L425.72 251.8 L428.55 251.8 L431.38 251.8 L434.21 251.8 L437.04 251.8 L439.87 251.8 L442.7 251.8 L445.53 251.8 L448.36 251.8 L451.19 251.8 L454.02 251.8 L456.85 251.8 L459.68 251.8 L462.51 251.8 L465.34 251.8 L468.17 251.8 L471 251.8 L473.83 251.8 L476.66 251.8 L479.49 251.8 L482.32 247.78 L485.15 210.53 L487.98 164.06 L490.81 149.07 L493.64 137.43 L496.47 127.08 L499.3 124 L502.13 126.64 L504.96 131.37 L507.79 140.79 L510.62 151.44 L513.45 164.83 L516.28 176.34 L519.11 189.78 L521.94 200.12 L524.77 208.91 L527.6 217.34 L530.43 222.26 L533.26 225.9 L536.09 228.38 L538.92 230 L541.75 230.38 L544.58 230.49 L547.41 228.69 L550.24 226.37 L553.07 224.79 L555.9 224.14 L558.73 224.02 L561.56 224.13 L564.39 224.87 L567.22 226.19 L570.05 228.26 L572.88 230.57 L575.71 233.18 L578.54 236.07 L581.37 240 L584.2 245.05 L587.03 250.04 L589.86 251.8 L592.69 251.8 L595.52 251.8 L598.35 251.8 L601.18 251.8 L604.01 251.8 L606.84 251.8 L609.67 251.8 L612.5 251.8 L615.33 251.8 L618.16 251.8 L620.99 251.8 L623.82 251.8 L626.65 251.8 L629.48 251.8 L632.31 251.8 L635.14 251.8 L637.97 251.8 L640.8 251.8 L643.63 251.8 L646.46 251.8 L649.29 251.8 L652.12 251.8 L654.95 251.8 L657.78 251.8" fill="none" stroke="#9400d3" stroke-width="1.1" stroke-linejoin="round"/>
<g fill="#9400d3">
<circle cx="414.4" cy="251.8" r="1.7"/>
<circle cx="417.23" cy="251.8" r="1.7"/>
<circle cx="420.06" cy="251.8" r="1.7"/>
<circle cx="422.89" cy="251.8" r="1.7"/>
<circle cx="425.72" cy="251.8" r="1.7"/>
<circle cx="428.55" cy="251.8" r="1.7"/>
<circle cx="431.38" cy="251.8" r="1.7"/>
<circle cx="434.21" cy="251.8" r="1.7"/>
<circle cx="437.04" cy="251.8" r="1.7"/>
<circle cx="439.87" cy="251.8" r="1.7"/>
<circle cx="442.7" cy="251.8" r="1.7"/>
<circle cx="445.53" cy="251.8" r="1.7"/>
<circle cx="448.36" cy="251.8" r="1.7"/>
<circle cx="451.19" cy="251.8" r="1.7"/>
<circle cx="454.02" cy="251.8" r="1.7"/>
<circle cx="456.85" cy="251.8" r="1.7"/>
<circle cx="459.68" cy="251.8" r="1.7"/>
<circle cx="462.51" cy="251.8" r="1.7"/>
<circle cx="465.34" cy="251.8" r="1.7"/>
<circle cx="468.17" cy="251.8" r="1.7"/>
<circle cx="471" cy="251.8" r="1.7"/>
<circle cx="473.83" cy="251.8" r="1.7"/>
<circle cx="476.66" cy="251.8" r="1.7"/>
<circle cx="479.49" cy="251.8" r="1.7"/>
<circle cx="482.32" cy="247.78" r="1.7"/>
<circle cx="485.15" cy="210.53" r="1.7"/>
<circle cx="487.98" cy="164.06" r="1.7"/>
<circle cx="490.81" cy="149.07" r="1.7"/>
<circle cx="493.64" cy="137.43" r="1.7"/>
<circle cx="496.47" cy="127.08" r="1.7"/>
<circle cx="499.3" cy="124" r="1.7"/>
<circle cx="502.13" cy="126.64" r="1.7"/>
<circle cx="504.96" cy="131.37" r="1.7"/>
<circle cx="507.79" cy="140.79" r="1.7"/>
<circle cx="510.62" cy="151.44" r="1.7"/>
<circle cx="513.45" cy="164.83" r="1.7"/>
<circle cx="516.28" cy="176.34" r="1.7"/>
<circle cx="519.11" cy="189.78" r="1.7"/>
<circle cx="521.94" cy="200.12" r="1.7"/>
<circle cx="524.77" cy="208.91" r="1.7"/>
<circle cx="527.6" cy="217.34" r="1.7"/>
<circle cx="530.43" cy="222.26" r="1.7"/>
<circle cx="533.26" cy="225.9" r="1.7"/>
<circle cx="536.09" cy="228.38" r="1.7"/>
<circle cx="538.92" cy="230" r="1.7"/>
<circle cx="541.75" cy="230.38" r="1.7"/>
<circle cx="544.58" cy="230.49" r="1.7"/>
<circle cx="547.41" cy="228.69" r="1.7"/>
<circle cx="550.24" cy="226.37" r="1.7"/>
<circle cx="553.07" cy="224.79" r="1.7"/>
<circle cx="555.9" cy="224.14" r="1.7"/>
<circle cx="558.73" cy="224.02" r="1.7"/>
<circle cx="561.56" cy="224.13" r="1.7"/>
<circle cx="564.39" cy="224.87" r="1.7"/>
<circle cx="567.22" cy="226.19" r="1.7"/>
<circle cx="570.05" cy="228.26" r="1.7"/>
<circle cx="572.88" cy="230.57" r="1.7"/>
<circle cx="575.71" cy="233.18" r="1.7"/>
<circle cx="578.54" cy="236.07" r="1.7"/>
<circle cx="581.37" cy="240" r="1.7"/>
<circle cx="584.2" cy="245.05" r="1.7"/>
<circle cx="587.03" cy="250.04" r="1.7"/>
<circle cx="589.86" cy="251.8" r="1.7"/>
<circle cx="592.69" cy="251.8" r="1.7"/>
<circle cx="595.52" cy="251.8" r="1.7"/>
<circle cx="598.35" cy="251.8" r="1.7"/>
<circle cx="601.18" cy="251.8" r="1.7"/>
<circle cx="604.01" cy="251.8" r="1.7"/>
<circle cx="606.84" cy="251.8" r="1.7"/>
<circle cx="609.67" cy="251.8" r="1.7"/>
<circle cx="612.5" cy="251.8" r="1.7"/>
<circle cx="615.33" cy="251.8" r="1.7"/>
<circle cx="618.16" cy="251.8" r="1.7"/>
<circle cx="620.99" cy="251.8" r="1.7"/>
<circle cx="623.82" cy="251.8" r="1.7"/>
<circle cx="626.65" cy="251.8" r="1.7"/>
<circle cx="629.48" cy="251.8" r="1.7"/>
<circle cx="632.31" cy="251.8" r="1.7"/>
<circle cx="635.14" cy="251.8" r="1.7"/>
<circle cx="637.97" cy="251.8" r="1.7"/>
<circle cx="640.8" cy="251.8" r="1.7"/>
<circle cx="643.63" cy="251.8" r="1.7"/>
<circle cx="646.46" cy="251.8" r="1.7"/>
<circle cx="649.29" cy="251.8" r="1.7"/>
<circle cx="652.12" cy="251.8" r="1.7"/>
<circle cx="654.95" cy="251.8" r="1.7"/>
<circle cx="657.78" cy="251.8" r="1.7"/>
</g>
<rect x="204" y="74.6" width="126" height="121.6" fill="#fff"/>
<rect x="571" y="65.8" width="114" height="120.5" fill="#fff"/>
<path d="M207.2 86.3 h24.4" stroke="#000000" stroke-width="1.2"/>
<circle cx="219.6" cy="86.3" r="1.4" fill="#fff" stroke="#000000" stroke-width="0.9"/>
<text x="233.5" y="90.9" fill="#000000" stroke="#000000" stroke-width="0.2" class="lg">30</text>
<circle cx="249.8" cy="80.2" r="1.2" fill="none" stroke="#000000" stroke-width="0.7" opacity="0.75"/>
<path d="M276 86.3 h24.4" stroke="#000000" stroke-width="1.2"/>
<circle cx="288.4" cy="86.3" r="1.6" fill="#000000"/>
<text x="302.3" y="90.9" fill="#000000" stroke="#000000" stroke-width="0.2" class="lg">75</text>
<circle cx="318.6" cy="80.2" r="1.2" fill="none" stroke="#000000" stroke-width="0.7" opacity="0.75"/>
<path d="M207.2 106.14 h24.4" stroke="#0000dd" stroke-width="1.2"/>
<circle cx="219.6" cy="106.14" r="1.4" fill="#fff" stroke="#0000dd" stroke-width="0.9"/>
<text x="233.5" y="110.74" fill="#0000dd" stroke="#0000dd" stroke-width="0.2" class="lg">35</text>
<circle cx="249.8" cy="100.04" r="1.2" fill="none" stroke="#0000dd" stroke-width="0.7" opacity="0.75"/>
<path d="M276 106.14 h24.4" stroke="#0000dd" stroke-width="1.2"/>
<circle cx="288.4" cy="106.14" r="1.6" fill="#0000dd"/>
<text x="302.3" y="110.74" fill="#0000dd" stroke="#0000dd" stroke-width="0.2" class="lg">90</text>
<circle cx="318.6" cy="100.04" r="1.2" fill="none" stroke="#0000dd" stroke-width="0.7" opacity="0.75"/>
<path d="M207.2 125.98 h24.4" stroke="#ff0000" stroke-width="1.2"/>
<circle cx="219.6" cy="125.98" r="1.4" fill="#fff" stroke="#ff0000" stroke-width="0.9"/>
<text x="233.5" y="130.58" fill="#ff0000" stroke="#ff0000" stroke-width="0.2" class="lg">40</text>
<circle cx="249.8" cy="119.88" r="1.2" fill="none" stroke="#ff0000" stroke-width="0.7" opacity="0.75"/>
<path d="M276 125.98 h24.4" stroke="#ff0000" stroke-width="1.2"/>
<circle cx="288.4" cy="125.98" r="1.6" fill="#ff0000"/>
<text x="302.3" y="130.58" fill="#ff0000" stroke="#ff0000" stroke-width="0.2" class="lg">105</text>
<circle cx="325.55" cy="119.88" r="1.2" fill="none" stroke="#ff0000" stroke-width="0.7" opacity="0.75"/>
<path d="M207.2 145.82 h24.4" stroke="#008000" stroke-width="1.2"/>
<circle cx="219.6" cy="145.82" r="1.4" fill="#fff" stroke="#008000" stroke-width="0.9"/>
<text x="233.5" y="150.42" fill="#008000" stroke="#008000" stroke-width="0.2" class="lg">45</text>
<circle cx="249.8" cy="139.72" r="1.2" fill="none" stroke="#008000" stroke-width="0.7" opacity="0.75"/>
<path d="M276 145.82 h24.4" stroke="#008000" stroke-width="1.2"/>
<circle cx="288.4" cy="145.82" r="1.6" fill="#008000"/>
<text x="302.3" y="150.42" fill="#008000" stroke="#008000" stroke-width="0.2" class="lg">120</text>
<circle cx="325.55" cy="139.72" r="1.2" fill="none" stroke="#008000" stroke-width="0.7" opacity="0.75"/>
<path d="M207.2 165.66 h24.4" stroke="#9400d3" stroke-width="1.2"/>
<circle cx="219.6" cy="165.66" r="1.4" fill="#fff" stroke="#9400d3" stroke-width="0.9"/>
<text x="233.5" y="170.26" fill="#9400d3" stroke="#9400d3" stroke-width="0.2" class="lg">50</text>
<circle cx="249.8" cy="159.56" r="1.2" fill="none" stroke="#9400d3" stroke-width="0.7" opacity="0.75"/>
<path d="M276 165.66 h24.4" stroke="#9400d3" stroke-width="1.2"/>
<circle cx="288.4" cy="165.66" r="1.6" fill="#9400d3"/>
<text x="302.3" y="170.26" fill="#9400d3" stroke="#9400d3" stroke-width="0.2" class="lg">135</text>
<circle cx="325.55" cy="159.56" r="1.2" fill="none" stroke="#9400d3" stroke-width="0.7" opacity="0.75"/>
<path d="M207.2 185.5 h24.4" stroke="#d2691e" stroke-width="1.2"/>
<circle cx="219.6" cy="185.5" r="1.4" fill="#fff" stroke="#d2691e" stroke-width="0.9"/>
<text x="233.5" y="190.1" fill="#d2691e" stroke="#d2691e" stroke-width="0.2" class="lg">60</text>
<circle cx="249.8" cy="179.4" r="1.2" fill="none" stroke="#d2691e" stroke-width="0.7" opacity="0.75"/>
<path d="M573.9 76.5 h24.4" stroke="#000000" stroke-width="1.2"/>
<circle cx="586.3" cy="76.5" r="1.4" fill="#fff" stroke="#000000" stroke-width="0.9"/>
<text x="600.2" y="81.1" fill="#000000" stroke="#000000" stroke-width="0.2" class="lg">30</text>
<circle cx="616.5" cy="70.4" r="1.2" fill="none" stroke="#000000" stroke-width="0.7" opacity="0.75"/>
<path d="M634.2 76.5 h24.4" stroke="#000000" stroke-width="1.2"/>
<circle cx="646.6" cy="76.5" r="1.6" fill="#000000"/>
<text x="660.5" y="81.1" fill="#000000" stroke="#000000" stroke-width="0.2" class="lg">75</text>
<circle cx="676.8" cy="70.4" r="1.2" fill="none" stroke="#000000" stroke-width="0.7" opacity="0.75"/>
<path d="M573.9 96.4 h24.4" stroke="#0000dd" stroke-width="1.2"/>
<circle cx="586.3" cy="96.4" r="1.4" fill="#fff" stroke="#0000dd" stroke-width="0.9"/>
<text x="600.2" y="101" fill="#0000dd" stroke="#0000dd" stroke-width="0.2" class="lg">35</text>
<circle cx="616.5" cy="90.3" r="1.2" fill="none" stroke="#0000dd" stroke-width="0.7" opacity="0.75"/>
<path d="M634.2 96.4 h24.4" stroke="#0000dd" stroke-width="1.2"/>
<circle cx="646.6" cy="96.4" r="1.6" fill="#0000dd"/>
<text x="660.5" y="101" fill="#0000dd" stroke="#0000dd" stroke-width="0.2" class="lg">90</text>
<circle cx="676.8" cy="90.3" r="1.2" fill="none" stroke="#0000dd" stroke-width="0.7" opacity="0.75"/>
<path d="M573.9 116.3 h24.4" stroke="#ff0000" stroke-width="1.2"/>
<circle cx="586.3" cy="116.3" r="1.4" fill="#fff" stroke="#ff0000" stroke-width="0.9"/>
<text x="600.2" y="120.9" fill="#ff0000" stroke="#ff0000" stroke-width="0.2" class="lg">40</text>
<circle cx="616.5" cy="110.2" r="1.2" fill="none" stroke="#ff0000" stroke-width="0.7" opacity="0.75"/>
<path d="M634.2 116.3 h24.4" stroke="#ff0000" stroke-width="1.2"/>
<circle cx="646.6" cy="116.3" r="1.6" fill="#ff0000"/>
<text x="660.5" y="120.9" fill="#ff0000" stroke="#ff0000" stroke-width="0.2" class="lg">105</text>
<circle cx="683.75" cy="110.2" r="1.2" fill="none" stroke="#ff0000" stroke-width="0.7" opacity="0.75"/>
<path d="M573.9 136.2 h24.4" stroke="#008000" stroke-width="1.2"/>
<circle cx="586.3" cy="136.2" r="1.4" fill="#fff" stroke="#008000" stroke-width="0.9"/>
<text x="600.2" y="140.8" fill="#008000" stroke="#008000" stroke-width="0.2" class="lg">45</text>
<circle cx="616.5" cy="130.1" r="1.2" fill="none" stroke="#008000" stroke-width="0.7" opacity="0.75"/>
<path d="M634.2 136.2 h24.4" stroke="#008000" stroke-width="1.2"/>
<circle cx="646.6" cy="136.2" r="1.6" fill="#008000"/>
<text x="660.5" y="140.8" fill="#008000" stroke="#008000" stroke-width="0.2" class="lg">120</text>
<circle cx="683.75" cy="130.1" r="1.2" fill="none" stroke="#008000" stroke-width="0.7" opacity="0.75"/>
<path d="M573.9 156.1 h24.4" stroke="#9400d3" stroke-width="1.2"/>
<circle cx="586.3" cy="156.1" r="1.4" fill="#fff" stroke="#9400d3" stroke-width="0.9"/>
<text x="600.2" y="160.7" fill="#9400d3" stroke="#9400d3" stroke-width="0.2" class="lg">50</text>
<circle cx="616.5" cy="150" r="1.2" fill="none" stroke="#9400d3" stroke-width="0.7" opacity="0.75"/>
<path d="M634.2 156.1 h24.4" stroke="#9400d3" stroke-width="1.2"/>
<circle cx="646.6" cy="156.1" r="1.6" fill="#9400d3"/>
<text x="660.5" y="160.7" fill="#9400d3" stroke="#9400d3" stroke-width="0.2" class="lg">135</text>
<circle cx="683.75" cy="150" r="1.2" fill="none" stroke="#9400d3" stroke-width="0.7" opacity="0.75"/>
<path d="M573.9 176 h24.4" stroke="#d2691e" stroke-width="1.2"/>
<circle cx="586.3" cy="176" r="1.4" fill="#fff" stroke="#d2691e" stroke-width="0.9"/>
<text x="600.2" y="180.6" fill="#d2691e" stroke="#d2691e" stroke-width="0.2" class="lg">60</text>
<circle cx="616.5" cy="169.9" r="1.2" fill="none" stroke="#d2691e" stroke-width="0.7" opacity="0.75"/>
<text x="58.3" y="9.4" class="tk" text-anchor="end">0.25</text>
<text x="58.3" y="58.52" class="tk" text-anchor="end">0.2</text>
<text x="58.3" y="107.64" class="tk" text-anchor="end">0.15</text>
<text x="58.3" y="156.76" class="tk" text-anchor="end">0.1</text>
<text x="58.3" y="205.88" class="tk" text-anchor="end">0.05</text>
<text x="58.3" y="255" class="tk" text-anchor="end">0</text>
<text x="64.5" y="268" class="tk" text-anchor="middle">10</text>
<text x="146.87" y="268" class="tk" text-anchor="middle">100</text>
<text x="229.24" y="268" class="tk" text-anchor="middle">1000</text>
<text x="311.61" y="268" class="tk" text-anchor="middle">10000</text>
<text x="406.5" y="10.1" class="tk" text-anchor="end">0.12</text>
<text x="406.5" y="50.88" class="tk" text-anchor="end">0.1</text>
<text x="406.5" y="91.67" class="tk" text-anchor="end">0.08</text>
<text x="406.5" y="132.45" class="tk" text-anchor="end">0.06</text>
<text x="406.5" y="173.23" class="tk" text-anchor="end">0.04</text>
<text x="406.5" y="214.02" class="tk" text-anchor="end">0.02</text>
<text x="406.5" y="254.8" class="tk" text-anchor="end">0</text>
<text x="412.7" y="268" class="tk" text-anchor="middle">10</text>
<text x="495.33" y="268" class="tk" text-anchor="middle">100</text>
<text x="577.96" y="268" class="tk" text-anchor="middle">1000</text>
<text x="660.59" y="268" class="tk" text-anchor="middle">10000</text>
<text x="-0.5" y="22.4" class="pl">(a)</text>
<text x="348" y="26.2" class="pl">(b)</text>
<text x="84.2" y="37.4" class="sr" font-size="16" font-style="italic">t</text>
<path d="M93.2 30.4h9.5M93.2 33.3h9.5" stroke="#222" stroke-width="0.95"/>
<text x="106.9" y="37.4" class="sr" font-size="16">17</text>
<text x="127.1" y="37.4" class="sr" font-size="16">min</text>
<text x="425.3" y="31.4" class="sr" font-size="16" font-style="italic">t</text>
<path d="M434.3 24.4h9.5M434.3 27.3h9.5" stroke="#222" stroke-width="0.95"/>
<text x="448.0" y="31.4" class="sr" font-size="16">61</text>
<text x="468.2" y="31.4" class="sr" font-size="16">min</text>
<text x="212.6" y="31" class="sr" font-size="16" font-style="italic">&#981;</text>
<text x="220.9" y="35.5" class="sr" font-size="12.5">H</text>
<text x="225.0" y="27.4" class="sr" font-size="12.5">&#176;</text>
<path d="M233.6 23.4h9.8M233.6 26.4h9.8" stroke="#222" stroke-width="0.95"/>
<text x="248.0" y="31" class="sr" font-size="16">0.8</text>
<text x="566.6" y="29.5" class="sr" font-size="16" font-style="italic">&#981;</text>
<text x="574.9" y="34.0" class="sr" font-size="12.5">H</text>
<text x="579.0" y="27.4" class="sr" font-size="12.5">&#176;</text>
<path d="M587.6 21.9h9.8M587.6 24.9h9.8" stroke="#222" stroke-width="0.95"/>
<text x="602.0" y="29.5" class="sr" font-size="16">0.8</text>
<text x="187.9" y="60.5" class="sr" font-size="16" font-style="italic">c</text>
<path d="M199.6 53.3h10M199.6 56.2h10" stroke="#222" stroke-width="0.95"/>
<text x="213.2" y="60.5" class="sr" font-size="16">0.021</text>
<text x="253.6" y="60.5" class="sr" font-size="16">g/cm</text>
<text x="285.9" y="54.2" class="sr" font-size="11.5">3</text>
<text x="541.5" y="59.5" class="sr" font-size="16" font-style="italic">c</text>
<path d="M553.2 52.3h10M553.2 55.2h10" stroke="#222" stroke-width="0.95"/>
<text x="566.8" y="59.5" class="sr" font-size="16">0.021</text>
<text x="607.2" y="59.5" class="sr" font-size="16">g/cm</text>
<text x="639.5" y="53.2" class="sr" font-size="11.5">3</text>
<text x="151.4" y="293.6" class="sr" font-size="17"><tspan font-style="italic">R</tspan><tspan font-size="12" dy="5">H,app</tspan><tspan dy="-5"> / nm</tspan></text>
<text x="499.5" y="293.6" class="sr" font-size="17"><tspan font-style="italic">R</tspan><tspan font-size="12" dy="5">H,app</tspan><tspan dy="-5"> / nm</tspan></text>
<text transform="translate(19.5,161) rotate(-90)" class="sr" font-size="17"><tspan font-style="italic">A</tspan>(<tspan font-style="italic">R</tspan><tspan font-size="12" dy="4.5">H,app</tspan><tspan dy="-4.5">)</tspan></text>
<text transform="translate(369,161.6) rotate(-90)" class="sr" font-size="17"><tspan font-style="italic">A</tspan>(<tspan font-style="italic">R</tspan><tspan font-size="12" dy="4.5">H,app</tspan><tspan dy="-4.5">)</tspan></text>
</svg>
</body></html>
